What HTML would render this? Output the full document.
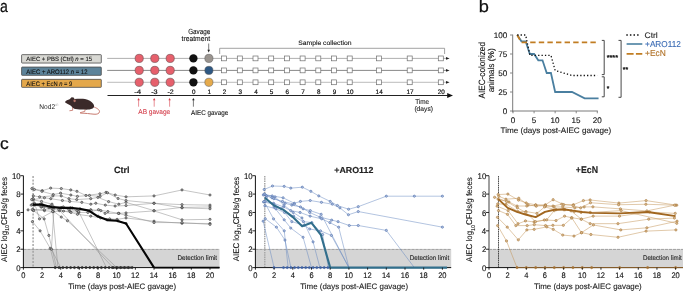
<!DOCTYPE html>
<html><head><meta charset="utf-8"><style>
html,body{margin:0;padding:0;background:#fff;}
svg{display:block;font-family:"Liberation Sans", sans-serif;text-rendering:geometricPrecision;will-change:transform;}
</style></head><body>
<svg width="685" height="291" viewBox="0 0 685 291">
<text x="0.06" y="11.80" font-size="17.037" textLength="7.85" lengthAdjust="spacingAndGlyphs" fill="#111" font-weight="normal" stroke="#111" stroke-width="0.25" >a</text>
<text x="478.82" y="12.00" font-size="16.552" textLength="10.13" lengthAdjust="spacingAndGlyphs" fill="#111" font-weight="normal" stroke="#111" stroke-width="0.25" >b</text>
<text x="-0.08" y="149.20" font-size="16.481" textLength="8.72" lengthAdjust="spacingAndGlyphs" fill="#111" font-weight="normal" stroke="#111" stroke-width="0.25" >c</text>
<rect x="21.6" y="54.65" width="79.7" height="8.40" fill="#d8d8d3" stroke="#4a4a4a" stroke-width="0.8" rx="0.6"/>
<text x="26.37" y="61.20" font-size="6.207" textLength="65.67" lengthAdjust="spacingAndGlyphs" fill="#111" font-weight="normal" stroke="#111" stroke-width="0.1" >AIEC + PBS (Ctrl) <tspan font-style="italic">n</tspan> = 15</text>
<rect x="21.6" y="67.05" width="79.7" height="8.30" fill="#5d8399" stroke="#4a4a4a" stroke-width="0.8" rx="0.6"/>
<text x="26.37" y="73.80" font-size="6.571" textLength="61.13" lengthAdjust="spacingAndGlyphs" fill="#111" font-weight="normal" stroke="#111" stroke-width="0.1" >AIEC + ARO112 <tspan font-style="italic">n</tspan> = 12</text>
<rect x="21.6" y="79.35" width="79.7" height="8.00" fill="#e4a84b" stroke="#4a4a4a" stroke-width="0.8" rx="0.6"/>
<text x="26.37" y="85.80" font-size="6.571" textLength="46.01" lengthAdjust="spacingAndGlyphs" fill="#111" font-weight="normal" stroke="#111" stroke-width="0.1" >AIEC + EcN <tspan font-style="italic">n</tspan> = 9</text>
<line x1="107.2" y1="58.4" x2="447" y2="58.4" stroke="#9a9a9a" stroke-width="0.8"/>
<path d="M446,57.0 L449.6,58.4 L446,59.8 Z" fill="#222"/>
<line x1="107.2" y1="70.4" x2="447" y2="70.4" stroke="#6a6a6a" stroke-width="0.8"/>
<path d="M446,69.0 L449.6,70.4 L446,71.80000000000001 Z" fill="#222"/>
<line x1="107.2" y1="82.3" x2="447" y2="82.3" stroke="#ababab" stroke-width="0.8"/>
<path d="M446,80.89999999999999 L449.6,82.3 L446,83.7 Z" fill="#222"/>
<circle cx="139.2" cy="58.4" r="4.1" fill="#e6606c" stroke="#6a4a4e" stroke-width="0.6"/>
<circle cx="154.8" cy="58.4" r="4.1" fill="#e6606c" stroke="#6a4a4e" stroke-width="0.6"/>
<circle cx="170.2" cy="58.4" r="4.1" fill="#e6606c" stroke="#6a4a4e" stroke-width="0.6"/>
<circle cx="193.4" cy="58.4" r="4.15" fill="#111"/>
<circle cx="139.2" cy="70.4" r="4.1" fill="#e6606c" stroke="#6a4a4e" stroke-width="0.6"/>
<circle cx="154.8" cy="70.4" r="4.1" fill="#e6606c" stroke="#6a4a4e" stroke-width="0.6"/>
<circle cx="170.2" cy="70.4" r="4.1" fill="#e6606c" stroke="#6a4a4e" stroke-width="0.6"/>
<circle cx="193.4" cy="70.4" r="4.15" fill="#111"/>
<circle cx="139.2" cy="82.3" r="4.1" fill="#e6606c" stroke="#6a4a4e" stroke-width="0.6"/>
<circle cx="154.8" cy="82.3" r="4.1" fill="#e6606c" stroke="#6a4a4e" stroke-width="0.6"/>
<circle cx="170.2" cy="82.3" r="4.1" fill="#e6606c" stroke="#6a4a4e" stroke-width="0.6"/>
<circle cx="193.4" cy="82.3" r="4.15" fill="#111"/>
<circle cx="208.9" cy="58.4" r="4.1" fill="#9a948f" stroke="#555" stroke-width="0.5"/>
<rect x="221.60" y="56.00" width="5" height="4.8" fill="#fff" stroke="#6e6e6e" stroke-width="0.7"/>
<rect x="237.30" y="56.00" width="5" height="4.8" fill="#fff" stroke="#6e6e6e" stroke-width="0.7"/>
<rect x="253.00" y="56.00" width="5" height="4.8" fill="#fff" stroke="#6e6e6e" stroke-width="0.7"/>
<rect x="268.70" y="56.00" width="5" height="4.8" fill="#fff" stroke="#6e6e6e" stroke-width="0.7"/>
<rect x="284.40" y="56.00" width="5" height="4.8" fill="#fff" stroke="#6e6e6e" stroke-width="0.7"/>
<rect x="300.10" y="56.00" width="5" height="4.8" fill="#fff" stroke="#6e6e6e" stroke-width="0.7"/>
<rect x="315.80" y="56.00" width="5" height="4.8" fill="#fff" stroke="#6e6e6e" stroke-width="0.7"/>
<rect x="331.50" y="56.00" width="5" height="4.8" fill="#fff" stroke="#6e6e6e" stroke-width="0.7"/>
<rect x="347.20" y="56.00" width="5" height="4.8" fill="#fff" stroke="#6e6e6e" stroke-width="0.7"/>
<rect x="376.40" y="56.00" width="5" height="4.8" fill="#fff" stroke="#6e6e6e" stroke-width="0.7"/>
<rect x="407.20" y="56.00" width="5" height="4.8" fill="#fff" stroke="#6e6e6e" stroke-width="0.7"/>
<rect x="438.30" y="56.00" width="5" height="4.8" fill="#fff" stroke="#6e6e6e" stroke-width="0.7"/>
<circle cx="208.9" cy="70.4" r="4.1" fill="#2e5883" stroke="#555" stroke-width="0.5"/>
<rect x="221.60" y="68.00" width="5" height="4.8" fill="#fff" stroke="#6e6e6e" stroke-width="0.7"/>
<rect x="237.30" y="68.00" width="5" height="4.8" fill="#fff" stroke="#6e6e6e" stroke-width="0.7"/>
<rect x="253.00" y="68.00" width="5" height="4.8" fill="#fff" stroke="#6e6e6e" stroke-width="0.7"/>
<rect x="268.70" y="68.00" width="5" height="4.8" fill="#fff" stroke="#6e6e6e" stroke-width="0.7"/>
<rect x="284.40" y="68.00" width="5" height="4.8" fill="#fff" stroke="#6e6e6e" stroke-width="0.7"/>
<rect x="300.10" y="68.00" width="5" height="4.8" fill="#fff" stroke="#6e6e6e" stroke-width="0.7"/>
<rect x="315.80" y="68.00" width="5" height="4.8" fill="#fff" stroke="#6e6e6e" stroke-width="0.7"/>
<rect x="331.50" y="68.00" width="5" height="4.8" fill="#fff" stroke="#6e6e6e" stroke-width="0.7"/>
<rect x="347.20" y="68.00" width="5" height="4.8" fill="#fff" stroke="#6e6e6e" stroke-width="0.7"/>
<rect x="376.40" y="68.00" width="5" height="4.8" fill="#fff" stroke="#6e6e6e" stroke-width="0.7"/>
<rect x="407.20" y="68.00" width="5" height="4.8" fill="#fff" stroke="#6e6e6e" stroke-width="0.7"/>
<rect x="438.30" y="68.00" width="5" height="4.8" fill="#fff" stroke="#6e6e6e" stroke-width="0.7"/>
<circle cx="208.9" cy="82.3" r="4.1" fill="#e5aa4c" stroke="#555" stroke-width="0.5"/>
<rect x="221.60" y="79.90" width="5" height="4.8" fill="#fff" stroke="#6e6e6e" stroke-width="0.7"/>
<rect x="237.30" y="79.90" width="5" height="4.8" fill="#fff" stroke="#6e6e6e" stroke-width="0.7"/>
<rect x="253.00" y="79.90" width="5" height="4.8" fill="#fff" stroke="#6e6e6e" stroke-width="0.7"/>
<rect x="268.70" y="79.90" width="5" height="4.8" fill="#fff" stroke="#6e6e6e" stroke-width="0.7"/>
<rect x="284.40" y="79.90" width="5" height="4.8" fill="#fff" stroke="#6e6e6e" stroke-width="0.7"/>
<rect x="300.10" y="79.90" width="5" height="4.8" fill="#fff" stroke="#6e6e6e" stroke-width="0.7"/>
<rect x="315.80" y="79.90" width="5" height="4.8" fill="#fff" stroke="#6e6e6e" stroke-width="0.7"/>
<rect x="331.50" y="79.90" width="5" height="4.8" fill="#fff" stroke="#6e6e6e" stroke-width="0.7"/>
<rect x="347.20" y="79.90" width="5" height="4.8" fill="#fff" stroke="#6e6e6e" stroke-width="0.7"/>
<rect x="376.40" y="79.90" width="5" height="4.8" fill="#fff" stroke="#6e6e6e" stroke-width="0.7"/>
<rect x="407.20" y="79.90" width="5" height="4.8" fill="#fff" stroke="#6e6e6e" stroke-width="0.7"/>
<rect x="438.30" y="79.90" width="5" height="4.8" fill="#fff" stroke="#6e6e6e" stroke-width="0.7"/>
<path d="M219.7,54 L219.7,48.3 L444.6,48.3 L444.6,54" fill="none" stroke="#8a8a8a" stroke-width="0.8"/>
<text x="298.19" y="44.60" font-size="6.483" textLength="53.27" lengthAdjust="spacingAndGlyphs" fill="#111" font-weight="normal" stroke="#111" stroke-width="0.1" >Sample collection</text>
<text x="188.18" y="33.80" font-size="7.571" textLength="22.12" lengthAdjust="spacingAndGlyphs" fill="#111" font-weight="normal" stroke="#111" stroke-width="0.1" >Gavage</text>
<text x="181.50" y="40.90" font-size="7.231" textLength="28.56" lengthAdjust="spacingAndGlyphs" fill="#111" font-weight="normal" stroke="#111" stroke-width="0.1" >treatment</text>
<line x1="208.7" y1="43.5" x2="208.7" y2="50.5" stroke="#222" stroke-width="0.6"/>
<path d="M207.4,49.8 L208.7,52.6 L210,49.8 Z" fill="#222"/>
<line x1="107.5" y1="95.5" x2="449" y2="95.5" stroke="#222" stroke-width="1.1"/>
<path d="M447.2,93 L453,95.5 L447.2,98 Z" fill="#111"/>
<text x="134.25" y="93.90" font-size="6.522" textLength="6.98" lengthAdjust="spacingAndGlyphs" fill="#222" font-weight="normal" stroke="#222" stroke-width="0.2" >-4</text>
<text x="151.17" y="93.90" font-size="6.429" textLength="6.45" lengthAdjust="spacingAndGlyphs" fill="#222" font-weight="normal" stroke="#222" stroke-width="0.2" >-3</text>
<text x="167.48" y="93.90" font-size="6.429" textLength="6.26" lengthAdjust="spacingAndGlyphs" fill="#222" font-weight="normal" stroke="#222" stroke-width="0.2" >-2</text>
<text x="192.05" y="93.90" font-size="6.429" textLength="3.50" lengthAdjust="spacingAndGlyphs" fill="#111" font-weight="normal" stroke="#111" stroke-width="0.2" >0</text>
<text x="207.45" y="93.90" font-size="6.522" textLength="3.55" lengthAdjust="spacingAndGlyphs" fill="#111" font-weight="normal" stroke="#111" stroke-width="0.2" >1</text>
<text x="222.75" y="93.90" font-size="6.429" textLength="3.50" lengthAdjust="spacingAndGlyphs" fill="#111" font-weight="normal" stroke="#111" stroke-width="0.2" >2</text>
<text x="238.47" y="93.90" font-size="6.429" textLength="3.50" lengthAdjust="spacingAndGlyphs" fill="#111" font-weight="normal" stroke="#111" stroke-width="0.2" >3</text>
<text x="254.14" y="93.90" font-size="6.522" textLength="3.55" lengthAdjust="spacingAndGlyphs" fill="#111" font-weight="normal" stroke="#111" stroke-width="0.2" >4</text>
<text x="269.83" y="93.90" font-size="6.522" textLength="3.55" lengthAdjust="spacingAndGlyphs" fill="#111" font-weight="normal" stroke="#111" stroke-width="0.2" >5</text>
<text x="285.54" y="93.90" font-size="6.429" textLength="3.50" lengthAdjust="spacingAndGlyphs" fill="#111" font-weight="normal" stroke="#111" stroke-width="0.2" >6</text>
<text x="301.23" y="93.90" font-size="6.522" textLength="3.55" lengthAdjust="spacingAndGlyphs" fill="#111" font-weight="normal" stroke="#111" stroke-width="0.2" >7</text>
<text x="316.94" y="93.90" font-size="6.429" textLength="3.50" lengthAdjust="spacingAndGlyphs" fill="#111" font-weight="normal" stroke="#111" stroke-width="0.2" >8</text>
<text x="332.65" y="93.90" font-size="6.429" textLength="3.50" lengthAdjust="spacingAndGlyphs" fill="#111" font-weight="normal" stroke="#111" stroke-width="0.2" >9</text>
<text x="346.49" y="93.90" font-size="6.429" textLength="7.01" lengthAdjust="spacingAndGlyphs" fill="#111" font-weight="normal" stroke="#111" stroke-width="0.2" >10</text>
<text x="375.61" y="93.90" font-size="6.522" textLength="7.11" lengthAdjust="spacingAndGlyphs" fill="#111" font-weight="normal" stroke="#111" stroke-width="0.2" >14</text>
<text x="406.47" y="93.90" font-size="6.522" textLength="7.11" lengthAdjust="spacingAndGlyphs" fill="#111" font-weight="normal" stroke="#111" stroke-width="0.2" >17</text>
<text x="437.67" y="93.90" font-size="6.429" textLength="7.01" lengthAdjust="spacingAndGlyphs" fill="#111" font-weight="normal" stroke="#111" stroke-width="0.2" >20</text>
<text x="415.17" y="104.30" font-size="7.034" textLength="14.02" lengthAdjust="spacingAndGlyphs" fill="#222" font-weight="normal" stroke="#222" stroke-width="0.1" >Time</text>
<text x="414.40" y="111.40" font-size="6.759" textLength="18.63" lengthAdjust="spacingAndGlyphs" fill="#222" font-weight="normal" stroke="#222" stroke-width="0.1" >(days)</text>
<line x1="138.6" y1="106.7" x2="138.6" y2="99.5" stroke="#d9434f" stroke-width="0.6"/>
<path d="M137.35,100.3 L138.6,97.9 L139.85,100.3 Z" fill="#d9434f"/>
<line x1="154.20000000000002" y1="106.7" x2="154.20000000000002" y2="99.5" stroke="#d9434f" stroke-width="0.6"/>
<path d="M152.95000000000002,100.3 L154.20000000000002,97.9 L155.45000000000002,100.3 Z" fill="#d9434f"/>
<line x1="169.6" y1="106.7" x2="169.6" y2="99.5" stroke="#d9434f" stroke-width="0.6"/>
<path d="M168.35,100.3 L169.6,97.9 L170.85,100.3 Z" fill="#d9434f"/>
<line x1="193.4" y1="106.7" x2="193.4" y2="99.5" stroke="#222" stroke-width="0.6"/>
<path d="M192.15,100.3 L193.4,97.9 L194.65,100.3 Z" fill="#222"/>
<text x="138.37" y="114.40" font-size="6.812" textLength="31.84" lengthAdjust="spacingAndGlyphs" fill="#d4404d" font-weight="normal" stroke="#d4404d" stroke-width="0.1" >AB gavage</text>
<text x="191.07" y="114.60" font-size="6.857" textLength="37.13" lengthAdjust="spacingAndGlyphs" fill="#111" font-weight="normal" stroke="#111" stroke-width="0.1" >AIEC gavage</text>
<text x="39.37" y="108.70" font-size="6.897" textLength="15.76" lengthAdjust="spacingAndGlyphs" fill="#1a1a1a" font-weight="normal" >Nod2</text>
<text x="55.0" y="106.3" font-size="3.9" fill="#888" textLength="3.6" lengthAdjust="spacingAndGlyphs">-/-</text>
<g>
<path d="M93.6,106.8 C96.5,107.9 99.6,109.6 99.5,111.7 C99.4,113.6 97,114.5 94,114.2 C90,113.9 85.5,113.1 80.6,113.1" fill="none" stroke="#c77a6f" stroke-width="1.0" stroke-linecap="round"/>
<path d="M72.6,107.6 L72.7,110.3 L69.8,110.7" fill="none" stroke="#c77a6f" stroke-width="0.9" stroke-linecap="round" stroke-linejoin="round"/>
<path d="M85.2,109 L84.8,111.4 L80.4,112.6" fill="none" stroke="#c77a6f" stroke-width="0.9" stroke-linecap="round" stroke-linejoin="round"/>
<path d="M65,101.9 C65.8,100.6 67.8,99.6 69.6,99.2 L71.6,97.3 L73.6,97.5 L74.5,98.9 C78,98.7 82,98.5 85,98.9 C88.6,99.5 91.6,101.2 93.4,104 C94.7,106.1 94,107.9 92.6,108.5 C90,109.7 87,109.7 84.7,109.6 C81,109.5 78,109.4 75.5,109 C73.6,108.6 72.5,107.6 71.4,106.2 C70,105.1 67.5,104.1 66,103.1 C65.4,102.7 65,102.3 65,101.9 Z" fill="#3b2a2a"/>
<ellipse cx="74.6" cy="100.8" rx="1.2" ry="1.4" fill="#b8766b"/>
</g>
<line x1="512.7" y1="34.60" x2="512.7" y2="112.3" stroke="#7a7a7a" stroke-width="1"/>
<line x1="512.2" y1="111.0" x2="597.80" y2="111.0" stroke="#7a7a7a" stroke-width="1"/>
<line x1="510" y1="111.00" x2="512.7" y2="111.00" stroke="#7a7a7a" stroke-width="0.9"/>
<text x="502.73" y="113.83" font-size="8.100" textLength="4.50" lengthAdjust="spacingAndGlyphs" fill="#111" font-weight="normal" stroke="#111" stroke-width="0.12" >0</text>
<line x1="510" y1="92.00" x2="512.7" y2="92.00" stroke="#7a7a7a" stroke-width="0.9"/>
<text x="498.23" y="94.83" font-size="8.100" textLength="9.01" lengthAdjust="spacingAndGlyphs" fill="#111" font-weight="normal" stroke="#111" stroke-width="0.12" >25</text>
<line x1="510" y1="73.00" x2="512.7" y2="73.00" stroke="#7a7a7a" stroke-width="0.9"/>
<text x="498.23" y="75.83" font-size="8.100" textLength="9.01" lengthAdjust="spacingAndGlyphs" fill="#111" font-weight="normal" stroke="#111" stroke-width="0.12" >50</text>
<line x1="510" y1="54.00" x2="512.7" y2="54.00" stroke="#7a7a7a" stroke-width="0.9"/>
<text x="498.23" y="56.79" font-size="8.100" textLength="9.01" lengthAdjust="spacingAndGlyphs" fill="#111" font-weight="normal" stroke="#111" stroke-width="0.12" >75</text>
<line x1="510" y1="35.00" x2="512.7" y2="35.00" stroke="#7a7a7a" stroke-width="0.9"/>
<text x="493.74" y="37.84" font-size="8.100" textLength="13.51" lengthAdjust="spacingAndGlyphs" fill="#111" font-weight="normal" stroke="#111" stroke-width="0.12" >100</text>
<line x1="513.00" y1="111" x2="513.00" y2="113.3" stroke="#7a7a7a" stroke-width="0.9"/>
<text x="510.75" y="122.97" font-size="8.100" textLength="4.50" lengthAdjust="spacingAndGlyphs" fill="#111" font-weight="normal" stroke="#111" stroke-width="0.12" >0</text>
<line x1="534.08" y1="111" x2="534.08" y2="113.3" stroke="#7a7a7a" stroke-width="0.9"/>
<text x="531.83" y="122.89" font-size="8.100" textLength="4.50" lengthAdjust="spacingAndGlyphs" fill="#111" font-weight="normal" stroke="#111" stroke-width="0.12" >5</text>
<line x1="555.15" y1="111" x2="555.15" y2="113.3" stroke="#7a7a7a" stroke-width="0.9"/>
<text x="550.51" y="122.97" font-size="8.100" textLength="9.01" lengthAdjust="spacingAndGlyphs" fill="#111" font-weight="normal" stroke="#111" stroke-width="0.12" >10</text>
<line x1="576.23" y1="111" x2="576.23" y2="113.3" stroke="#7a7a7a" stroke-width="0.9"/>
<text x="571.59" y="122.89" font-size="8.100" textLength="9.01" lengthAdjust="spacingAndGlyphs" fill="#111" font-weight="normal" stroke="#111" stroke-width="0.12" >15</text>
<line x1="597.30" y1="111" x2="597.30" y2="113.3" stroke="#7a7a7a" stroke-width="0.9"/>
<text x="592.76" y="122.97" font-size="8.100" textLength="9.01" lengthAdjust="spacingAndGlyphs" fill="#111" font-weight="normal" stroke="#111" stroke-width="0.12" >20</text>
<text x="500.54" y="132.60" font-size="7.862" textLength="110.79" lengthAdjust="spacingAndGlyphs" fill="#222" font-weight="normal" stroke="#222" stroke-width="0.12" >Time (days post-AIEC gavage)</text>
<text transform="translate(485.20,98.50) rotate(-90)" x="-0.04" y="0" font-size="9.103" textLength="56.49" lengthAdjust="spacingAndGlyphs" fill="#111" stroke="#111" stroke-width="0.12">AIEC-colonized</text>
<text transform="translate(494.20,91.90) rotate(-90)" x="-0.38" y="0" font-size="8.690" textLength="44.11" lengthAdjust="spacingAndGlyphs" fill="#111" stroke="#111" stroke-width="0.12">animals (%)</text>
<polyline points="517.22,35.00 521.43,41.31 525.64,41.31 529.86,54.00 534.08,54.00 538.29,60.31 542.50,60.31 546.72,73.00 550.93,73.00 555.15,92.00 572.01,92.00 584.65,98.31 598.56,98.31" fill="none" stroke="#4a7fa0" stroke-width="1.8" stroke-linejoin="miter"/>
<polyline points="517.22,35.00 521.43,42.30 597.30,42.30" fill="none" stroke="#c17d22" stroke-width="1.8" stroke-dasharray="5.4 3.2"/>
<polyline points="517.22,35.00 525.64,35.00 529.86,55.29 550.93,55.29 555.15,70.49 572.01,75.51 597.30,75.51" fill="none" stroke="#111" stroke-width="1.3" stroke-dasharray="1.3 2.1"/>
<path d="M601.8,40.4 L604.2,40.4 L604.2,74.6 L601.8,74.6" fill="none" stroke="#333" stroke-width="0.9"/>
<path d="M601.8,76.8 L604.2,76.8 L604.2,96.8 L601.8,96.8" fill="none" stroke="#333" stroke-width="0.9"/>
<path d="M618.5,40.4 L621.1,40.4 L621.1,97.3 L618.5,97.3" fill="none" stroke="#333" stroke-width="0.9"/>
<text x="606.65" y="59.80" font-size="7.174" textLength="11.40" lengthAdjust="spacingAndGlyphs" fill="#222" font-weight="normal" stroke="#222" stroke-width="0.35" >****</text>
<text x="606.77" y="90.50" font-size="7.174" textLength="2.56" lengthAdjust="spacingAndGlyphs" fill="#222" font-weight="normal" stroke="#222" stroke-width="0.35" >*</text>
<text x="622.86" y="71.60" font-size="7.174" textLength="5.36" lengthAdjust="spacingAndGlyphs" fill="#222" font-weight="normal" stroke="#222" stroke-width="0.35" >**</text>
<line x1="626.3" y1="34.9" x2="640" y2="34.9" stroke="#111" stroke-width="1.5" stroke-dasharray="1.5 2.1"/>
<line x1="626.6" y1="44" x2="642.3" y2="44" stroke="#4a7fa0" stroke-width="1.6"/>
<line x1="626.6" y1="53.9" x2="642.3" y2="53.9" stroke="#c17d22" stroke-width="1.6" stroke-dasharray="7 2.3"/>
<text x="644.58" y="37.80" font-size="8.000" textLength="13.18" lengthAdjust="spacingAndGlyphs" fill="#222" font-weight="normal" stroke="#222" stroke-width="0.12" >Ctrl</text>
<text x="645.09" y="47.00" font-size="8.571" textLength="35.72" lengthAdjust="spacingAndGlyphs" fill="#3d6db5" font-weight="normal" stroke="#3d6db5" stroke-width="0.12" >+ARO112</text>
<text x="645.08" y="56.00" font-size="8.696" textLength="20.82" lengthAdjust="spacingAndGlyphs" fill="#b07228" font-weight="normal" stroke="#b07228" stroke-width="0.12" >+EcN</text>
<rect x="23.40" y="249.2" width="196.10" height="18.4" fill="#d5d5d5"/>
<line x1="23.40" y1="249.4" x2="219.50" y2="249.4" stroke="#8a8a8a" stroke-width="0.75" stroke-dasharray="3.2 0.8"/>
<text x="177.50" y="260.40" font-size="6.759" textLength="39.57" lengthAdjust="spacingAndGlyphs" fill="#222" font-weight="normal" stroke="#222" stroke-width="0.1" >Detection limit</text>
<line x1="33.08" y1="176" x2="33.08" y2="267.6" stroke="#9a9a9a" stroke-width="1.3" stroke-dasharray="2 1.4"/>
<polyline points="31.85,188.57 42.31,190.68 50.66,188.11 61.30,188.57 70.75,189.94 76.95,191.32 85.98,195.46 99.93,193.80 106.02,192.33 115.21,195.00 126.03,196.84 154.02,195.92 182.01,189.94 210.00,195.00" fill="none" stroke="#8a8a8a" stroke-width="0.5"/>
<polyline points="34.39,189.49 41.89,191.32 53.27,194.54 60.59,193.16 70.83,195.00 77.42,196.38 89.46,195.46 100.10,196.38 107.50,192.79 118.05,198.49 126.03,200.51 154.02,203.27 182.01,204.65 210.00,205.11" fill="none" stroke="#8a8a8a" stroke-width="0.5"/>
<polyline points="33.31,195.92 39.62,196.84 52.84,195.92 61.23,195.92 68.94,198.68 76.75,199.59 90.76,198.68 97.89,197.39 108.59,201.62 118.82,204.19 126.03,202.35 154.02,210.62 182.01,207.41 210.00,206.95" fill="none" stroke="#8a8a8a" stroke-width="0.5"/>
<polyline points="33.45,199.59 44.42,197.76 50.80,198.68 62.40,200.51 69.74,201.43 81.82,202.35 90.83,204.19 95.79,203.27 105.33,205.11 115.12,206.03 126.03,205.57 154.02,203.27 182.01,207.87 210.00,208.78" fill="none" stroke="#8a8a8a" stroke-width="0.5"/>
<polyline points="34.29,205.11 41.70,206.95 52.10,208.78 59.61,210.62 70.09,211.54 78.74,212.46 87.88,212.46 98.52,209.70 107.84,211.54 118.96,213.38 126.03,212.92 154.02,210.90 182.01,219.81 210.00,219.35" fill="none" stroke="#8a8a8a" stroke-width="0.5"/>
<polyline points="33.34,209.70 44.46,210.62 53.39,211.54 63.47,211.08 71.01,212.46 77.49,214.30 90.73,216.14 100.64,217.97 109.64,218.89 117.09,219.35 126.03,217.97 154.02,221.19 182.01,223.30 210.00,223.49" fill="none" stroke="#8a8a8a" stroke-width="0.5"/>
<polyline points="33.45,204.65 40.44,204.19 53.25,206.95 61.13,207.87 68.85,209.70 76.94,210.62 90.69,209.70 100.78,210.62 105.07,213.38 118.38,213.38 126.03,215.22 154.02,222.57 182.01,222.57 210.00,224.41" fill="none" stroke="#8a8a8a" stroke-width="0.5"/>
<polyline points="32.43,221.65 40.10,230.84 50.24,248.30 55.12,267.60" fill="none" stroke="#8a8a8a" stroke-width="0.5"/>
<polyline points="33.63,210.62 44.15,218.89 48.84,235.44 56.52,267.60" fill="none" stroke="#8a8a8a" stroke-width="0.5"/>
<polyline points="33.11,198.68 39.51,218.89 52.61,211.54 57.92,267.60" fill="none" stroke="#8a8a8a" stroke-width="0.5"/>
<polyline points="32.16,209.70 44.19,209.70 54.08,207.87 51.42,249.22 60.72,267.60" fill="none" stroke="#8a8a8a" stroke-width="0.5"/>
<polyline points="34.40,203.27 40.99,206.95 49.02,207.87 61.28,217.06 67.43,220.73 116.70,267.60" fill="none" stroke="#8a8a8a" stroke-width="0.5"/>
<polyline points="31.71,199.59 41.54,201.43 52.01,204.19 58.80,209.70 112.97,267.60" fill="none" stroke="#8a8a8a" stroke-width="0.5"/>
<polyline points="31.19,205.11 44.12,206.03 50.35,206.03 63.29,206.95 72.27,207.87 78.70,211.54 106.44,267.60" fill="none" stroke="#8a8a8a" stroke-width="0.5"/>
<polyline points="32.60,204.19 42.17,204.19 52.20,206.95 61.26,207.87 70.38,207.87 80.05,208.78 91.18,210.62 98.08,216.14 106.98,219.81 117.93,220.73 126.03,223.49 154.02,267.60" fill="none" stroke="#8a8a8a" stroke-width="0.5"/>
<polyline points="28.06,209.89" fill="none" stroke="#8a8a8a" stroke-width="0.5"/>
<circle cx="31.85" cy="188.57" r="1.1" fill="#b0b0b0" stroke="#2a2a2a" stroke-width="0.6"/>
<circle cx="42.31" cy="190.68" r="1.1" fill="#b0b0b0" stroke="#2a2a2a" stroke-width="0.6"/>
<circle cx="50.66" cy="188.11" r="1.1" fill="#b0b0b0" stroke="#2a2a2a" stroke-width="0.6"/>
<circle cx="61.30" cy="188.57" r="1.1" fill="#b0b0b0" stroke="#2a2a2a" stroke-width="0.6"/>
<circle cx="70.75" cy="189.94" r="1.1" fill="#b0b0b0" stroke="#2a2a2a" stroke-width="0.6"/>
<circle cx="76.95" cy="191.32" r="1.1" fill="#b0b0b0" stroke="#2a2a2a" stroke-width="0.6"/>
<circle cx="85.98" cy="195.46" r="1.1" fill="#b0b0b0" stroke="#2a2a2a" stroke-width="0.6"/>
<circle cx="99.93" cy="193.80" r="1.1" fill="#b0b0b0" stroke="#2a2a2a" stroke-width="0.6"/>
<circle cx="106.02" cy="192.33" r="1.1" fill="#b0b0b0" stroke="#2a2a2a" stroke-width="0.6"/>
<circle cx="115.21" cy="195.00" r="1.1" fill="#b0b0b0" stroke="#2a2a2a" stroke-width="0.6"/>
<circle cx="126.03" cy="196.84" r="1.1" fill="#b0b0b0" stroke="#2a2a2a" stroke-width="0.6"/>
<circle cx="154.02" cy="195.92" r="1.1" fill="#b0b0b0" stroke="#2a2a2a" stroke-width="0.6"/>
<circle cx="182.01" cy="189.94" r="1.1" fill="#b0b0b0" stroke="#2a2a2a" stroke-width="0.6"/>
<circle cx="210.00" cy="195.00" r="1.1" fill="#b0b0b0" stroke="#2a2a2a" stroke-width="0.6"/>
<circle cx="34.39" cy="189.49" r="1.1" fill="#b0b0b0" stroke="#2a2a2a" stroke-width="0.6"/>
<circle cx="41.89" cy="191.32" r="1.1" fill="#b0b0b0" stroke="#2a2a2a" stroke-width="0.6"/>
<circle cx="53.27" cy="194.54" r="1.1" fill="#b0b0b0" stroke="#2a2a2a" stroke-width="0.6"/>
<circle cx="60.59" cy="193.16" r="1.1" fill="#b0b0b0" stroke="#2a2a2a" stroke-width="0.6"/>
<circle cx="70.83" cy="195.00" r="1.1" fill="#b0b0b0" stroke="#2a2a2a" stroke-width="0.6"/>
<circle cx="77.42" cy="196.38" r="1.1" fill="#b0b0b0" stroke="#2a2a2a" stroke-width="0.6"/>
<circle cx="89.46" cy="195.46" r="1.1" fill="#b0b0b0" stroke="#2a2a2a" stroke-width="0.6"/>
<circle cx="100.10" cy="196.38" r="1.1" fill="#b0b0b0" stroke="#2a2a2a" stroke-width="0.6"/>
<circle cx="107.50" cy="192.79" r="1.1" fill="#b0b0b0" stroke="#2a2a2a" stroke-width="0.6"/>
<circle cx="118.05" cy="198.49" r="1.1" fill="#b0b0b0" stroke="#2a2a2a" stroke-width="0.6"/>
<circle cx="126.03" cy="200.51" r="1.1" fill="#b0b0b0" stroke="#2a2a2a" stroke-width="0.6"/>
<circle cx="154.02" cy="203.27" r="1.1" fill="#b0b0b0" stroke="#2a2a2a" stroke-width="0.6"/>
<circle cx="182.01" cy="204.65" r="1.1" fill="#b0b0b0" stroke="#2a2a2a" stroke-width="0.6"/>
<circle cx="210.00" cy="205.11" r="1.1" fill="#b0b0b0" stroke="#2a2a2a" stroke-width="0.6"/>
<circle cx="33.31" cy="195.92" r="1.1" fill="#b0b0b0" stroke="#2a2a2a" stroke-width="0.6"/>
<circle cx="39.62" cy="196.84" r="1.1" fill="#b0b0b0" stroke="#2a2a2a" stroke-width="0.6"/>
<circle cx="52.84" cy="195.92" r="1.1" fill="#b0b0b0" stroke="#2a2a2a" stroke-width="0.6"/>
<circle cx="61.23" cy="195.92" r="1.1" fill="#b0b0b0" stroke="#2a2a2a" stroke-width="0.6"/>
<circle cx="68.94" cy="198.68" r="1.1" fill="#b0b0b0" stroke="#2a2a2a" stroke-width="0.6"/>
<circle cx="76.75" cy="199.59" r="1.1" fill="#b0b0b0" stroke="#2a2a2a" stroke-width="0.6"/>
<circle cx="90.76" cy="198.68" r="1.1" fill="#b0b0b0" stroke="#2a2a2a" stroke-width="0.6"/>
<circle cx="97.89" cy="197.39" r="1.1" fill="#b0b0b0" stroke="#2a2a2a" stroke-width="0.6"/>
<circle cx="108.59" cy="201.62" r="1.1" fill="#b0b0b0" stroke="#2a2a2a" stroke-width="0.6"/>
<circle cx="118.82" cy="204.19" r="1.1" fill="#b0b0b0" stroke="#2a2a2a" stroke-width="0.6"/>
<circle cx="126.03" cy="202.35" r="1.1" fill="#b0b0b0" stroke="#2a2a2a" stroke-width="0.6"/>
<circle cx="154.02" cy="210.62" r="1.1" fill="#b0b0b0" stroke="#2a2a2a" stroke-width="0.6"/>
<circle cx="182.01" cy="207.41" r="1.1" fill="#b0b0b0" stroke="#2a2a2a" stroke-width="0.6"/>
<circle cx="210.00" cy="206.95" r="1.1" fill="#b0b0b0" stroke="#2a2a2a" stroke-width="0.6"/>
<circle cx="33.45" cy="199.59" r="1.1" fill="#b0b0b0" stroke="#2a2a2a" stroke-width="0.6"/>
<circle cx="44.42" cy="197.76" r="1.1" fill="#b0b0b0" stroke="#2a2a2a" stroke-width="0.6"/>
<circle cx="50.80" cy="198.68" r="1.1" fill="#b0b0b0" stroke="#2a2a2a" stroke-width="0.6"/>
<circle cx="62.40" cy="200.51" r="1.1" fill="#b0b0b0" stroke="#2a2a2a" stroke-width="0.6"/>
<circle cx="69.74" cy="201.43" r="1.1" fill="#b0b0b0" stroke="#2a2a2a" stroke-width="0.6"/>
<circle cx="81.82" cy="202.35" r="1.1" fill="#b0b0b0" stroke="#2a2a2a" stroke-width="0.6"/>
<circle cx="90.83" cy="204.19" r="1.1" fill="#b0b0b0" stroke="#2a2a2a" stroke-width="0.6"/>
<circle cx="95.79" cy="203.27" r="1.1" fill="#b0b0b0" stroke="#2a2a2a" stroke-width="0.6"/>
<circle cx="105.33" cy="205.11" r="1.1" fill="#b0b0b0" stroke="#2a2a2a" stroke-width="0.6"/>
<circle cx="115.12" cy="206.03" r="1.1" fill="#b0b0b0" stroke="#2a2a2a" stroke-width="0.6"/>
<circle cx="126.03" cy="205.57" r="1.1" fill="#b0b0b0" stroke="#2a2a2a" stroke-width="0.6"/>
<circle cx="154.02" cy="203.27" r="1.1" fill="#b0b0b0" stroke="#2a2a2a" stroke-width="0.6"/>
<circle cx="182.01" cy="207.87" r="1.1" fill="#b0b0b0" stroke="#2a2a2a" stroke-width="0.6"/>
<circle cx="210.00" cy="208.78" r="1.1" fill="#b0b0b0" stroke="#2a2a2a" stroke-width="0.6"/>
<circle cx="34.29" cy="205.11" r="1.1" fill="#b0b0b0" stroke="#2a2a2a" stroke-width="0.6"/>
<circle cx="41.70" cy="206.95" r="1.1" fill="#b0b0b0" stroke="#2a2a2a" stroke-width="0.6"/>
<circle cx="52.10" cy="208.78" r="1.1" fill="#b0b0b0" stroke="#2a2a2a" stroke-width="0.6"/>
<circle cx="59.61" cy="210.62" r="1.1" fill="#b0b0b0" stroke="#2a2a2a" stroke-width="0.6"/>
<circle cx="70.09" cy="211.54" r="1.1" fill="#b0b0b0" stroke="#2a2a2a" stroke-width="0.6"/>
<circle cx="78.74" cy="212.46" r="1.1" fill="#b0b0b0" stroke="#2a2a2a" stroke-width="0.6"/>
<circle cx="87.88" cy="212.46" r="1.1" fill="#b0b0b0" stroke="#2a2a2a" stroke-width="0.6"/>
<circle cx="98.52" cy="209.70" r="1.1" fill="#b0b0b0" stroke="#2a2a2a" stroke-width="0.6"/>
<circle cx="107.84" cy="211.54" r="1.1" fill="#b0b0b0" stroke="#2a2a2a" stroke-width="0.6"/>
<circle cx="118.96" cy="213.38" r="1.1" fill="#b0b0b0" stroke="#2a2a2a" stroke-width="0.6"/>
<circle cx="126.03" cy="212.92" r="1.1" fill="#b0b0b0" stroke="#2a2a2a" stroke-width="0.6"/>
<circle cx="154.02" cy="210.90" r="1.1" fill="#b0b0b0" stroke="#2a2a2a" stroke-width="0.6"/>
<circle cx="182.01" cy="219.81" r="1.1" fill="#b0b0b0" stroke="#2a2a2a" stroke-width="0.6"/>
<circle cx="210.00" cy="219.35" r="1.1" fill="#b0b0b0" stroke="#2a2a2a" stroke-width="0.6"/>
<circle cx="33.34" cy="209.70" r="1.1" fill="#b0b0b0" stroke="#2a2a2a" stroke-width="0.6"/>
<circle cx="44.46" cy="210.62" r="1.1" fill="#b0b0b0" stroke="#2a2a2a" stroke-width="0.6"/>
<circle cx="53.39" cy="211.54" r="1.1" fill="#b0b0b0" stroke="#2a2a2a" stroke-width="0.6"/>
<circle cx="63.47" cy="211.08" r="1.1" fill="#b0b0b0" stroke="#2a2a2a" stroke-width="0.6"/>
<circle cx="71.01" cy="212.46" r="1.1" fill="#b0b0b0" stroke="#2a2a2a" stroke-width="0.6"/>
<circle cx="77.49" cy="214.30" r="1.1" fill="#b0b0b0" stroke="#2a2a2a" stroke-width="0.6"/>
<circle cx="90.73" cy="216.14" r="1.1" fill="#b0b0b0" stroke="#2a2a2a" stroke-width="0.6"/>
<circle cx="100.64" cy="217.97" r="1.1" fill="#b0b0b0" stroke="#2a2a2a" stroke-width="0.6"/>
<circle cx="109.64" cy="218.89" r="1.1" fill="#b0b0b0" stroke="#2a2a2a" stroke-width="0.6"/>
<circle cx="117.09" cy="219.35" r="1.1" fill="#b0b0b0" stroke="#2a2a2a" stroke-width="0.6"/>
<circle cx="126.03" cy="217.97" r="1.1" fill="#b0b0b0" stroke="#2a2a2a" stroke-width="0.6"/>
<circle cx="154.02" cy="221.19" r="1.1" fill="#b0b0b0" stroke="#2a2a2a" stroke-width="0.6"/>
<circle cx="182.01" cy="223.30" r="1.1" fill="#b0b0b0" stroke="#2a2a2a" stroke-width="0.6"/>
<circle cx="210.00" cy="223.49" r="1.1" fill="#b0b0b0" stroke="#2a2a2a" stroke-width="0.6"/>
<circle cx="33.45" cy="204.65" r="1.1" fill="#b0b0b0" stroke="#2a2a2a" stroke-width="0.6"/>
<circle cx="40.44" cy="204.19" r="1.1" fill="#b0b0b0" stroke="#2a2a2a" stroke-width="0.6"/>
<circle cx="53.25" cy="206.95" r="1.1" fill="#b0b0b0" stroke="#2a2a2a" stroke-width="0.6"/>
<circle cx="61.13" cy="207.87" r="1.1" fill="#b0b0b0" stroke="#2a2a2a" stroke-width="0.6"/>
<circle cx="68.85" cy="209.70" r="1.1" fill="#b0b0b0" stroke="#2a2a2a" stroke-width="0.6"/>
<circle cx="76.94" cy="210.62" r="1.1" fill="#b0b0b0" stroke="#2a2a2a" stroke-width="0.6"/>
<circle cx="90.69" cy="209.70" r="1.1" fill="#b0b0b0" stroke="#2a2a2a" stroke-width="0.6"/>
<circle cx="100.78" cy="210.62" r="1.1" fill="#b0b0b0" stroke="#2a2a2a" stroke-width="0.6"/>
<circle cx="105.07" cy="213.38" r="1.1" fill="#b0b0b0" stroke="#2a2a2a" stroke-width="0.6"/>
<circle cx="118.38" cy="213.38" r="1.1" fill="#b0b0b0" stroke="#2a2a2a" stroke-width="0.6"/>
<circle cx="126.03" cy="215.22" r="1.1" fill="#b0b0b0" stroke="#2a2a2a" stroke-width="0.6"/>
<circle cx="154.02" cy="222.57" r="1.1" fill="#b0b0b0" stroke="#2a2a2a" stroke-width="0.6"/>
<circle cx="182.01" cy="222.57" r="1.1" fill="#b0b0b0" stroke="#2a2a2a" stroke-width="0.6"/>
<circle cx="210.00" cy="224.41" r="1.1" fill="#b0b0b0" stroke="#2a2a2a" stroke-width="0.6"/>
<circle cx="32.43" cy="221.65" r="1.1" fill="#b0b0b0" stroke="#2a2a2a" stroke-width="0.6"/>
<circle cx="40.10" cy="230.84" r="1.1" fill="#b0b0b0" stroke="#2a2a2a" stroke-width="0.6"/>
<circle cx="50.24" cy="248.30" r="1.1" fill="#b0b0b0" stroke="#2a2a2a" stroke-width="0.6"/>
<circle cx="33.63" cy="210.62" r="1.1" fill="#b0b0b0" stroke="#2a2a2a" stroke-width="0.6"/>
<circle cx="44.15" cy="218.89" r="1.1" fill="#b0b0b0" stroke="#2a2a2a" stroke-width="0.6"/>
<circle cx="48.84" cy="235.44" r="1.1" fill="#b0b0b0" stroke="#2a2a2a" stroke-width="0.6"/>
<circle cx="33.11" cy="198.68" r="1.1" fill="#b0b0b0" stroke="#2a2a2a" stroke-width="0.6"/>
<circle cx="39.51" cy="218.89" r="1.1" fill="#b0b0b0" stroke="#2a2a2a" stroke-width="0.6"/>
<circle cx="52.61" cy="211.54" r="1.1" fill="#b0b0b0" stroke="#2a2a2a" stroke-width="0.6"/>
<circle cx="32.16" cy="209.70" r="1.1" fill="#b0b0b0" stroke="#2a2a2a" stroke-width="0.6"/>
<circle cx="44.19" cy="209.70" r="1.1" fill="#b0b0b0" stroke="#2a2a2a" stroke-width="0.6"/>
<circle cx="54.08" cy="207.87" r="1.1" fill="#b0b0b0" stroke="#2a2a2a" stroke-width="0.6"/>
<circle cx="51.42" cy="249.22" r="1.1" fill="#b0b0b0" stroke="#2a2a2a" stroke-width="0.6"/>
<circle cx="34.40" cy="203.27" r="1.1" fill="#b0b0b0" stroke="#2a2a2a" stroke-width="0.6"/>
<circle cx="40.99" cy="206.95" r="1.1" fill="#b0b0b0" stroke="#2a2a2a" stroke-width="0.6"/>
<circle cx="49.02" cy="207.87" r="1.1" fill="#b0b0b0" stroke="#2a2a2a" stroke-width="0.6"/>
<circle cx="61.28" cy="217.06" r="1.1" fill="#b0b0b0" stroke="#2a2a2a" stroke-width="0.6"/>
<circle cx="67.43" cy="220.73" r="1.1" fill="#b0b0b0" stroke="#2a2a2a" stroke-width="0.6"/>
<circle cx="31.71" cy="199.59" r="1.1" fill="#b0b0b0" stroke="#2a2a2a" stroke-width="0.6"/>
<circle cx="41.54" cy="201.43" r="1.1" fill="#b0b0b0" stroke="#2a2a2a" stroke-width="0.6"/>
<circle cx="52.01" cy="204.19" r="1.1" fill="#b0b0b0" stroke="#2a2a2a" stroke-width="0.6"/>
<circle cx="58.80" cy="209.70" r="1.1" fill="#b0b0b0" stroke="#2a2a2a" stroke-width="0.6"/>
<circle cx="31.19" cy="205.11" r="1.1" fill="#b0b0b0" stroke="#2a2a2a" stroke-width="0.6"/>
<circle cx="44.12" cy="206.03" r="1.1" fill="#b0b0b0" stroke="#2a2a2a" stroke-width="0.6"/>
<circle cx="50.35" cy="206.03" r="1.1" fill="#b0b0b0" stroke="#2a2a2a" stroke-width="0.6"/>
<circle cx="63.29" cy="206.95" r="1.1" fill="#b0b0b0" stroke="#2a2a2a" stroke-width="0.6"/>
<circle cx="72.27" cy="207.87" r="1.1" fill="#b0b0b0" stroke="#2a2a2a" stroke-width="0.6"/>
<circle cx="78.70" cy="211.54" r="1.1" fill="#b0b0b0" stroke="#2a2a2a" stroke-width="0.6"/>
<circle cx="32.60" cy="204.19" r="1.1" fill="#b0b0b0" stroke="#2a2a2a" stroke-width="0.6"/>
<circle cx="42.17" cy="204.19" r="1.1" fill="#b0b0b0" stroke="#2a2a2a" stroke-width="0.6"/>
<circle cx="52.20" cy="206.95" r="1.1" fill="#b0b0b0" stroke="#2a2a2a" stroke-width="0.6"/>
<circle cx="61.26" cy="207.87" r="1.1" fill="#b0b0b0" stroke="#2a2a2a" stroke-width="0.6"/>
<circle cx="70.38" cy="207.87" r="1.1" fill="#b0b0b0" stroke="#2a2a2a" stroke-width="0.6"/>
<circle cx="80.05" cy="208.78" r="1.1" fill="#b0b0b0" stroke="#2a2a2a" stroke-width="0.6"/>
<circle cx="91.18" cy="210.62" r="1.1" fill="#b0b0b0" stroke="#2a2a2a" stroke-width="0.6"/>
<circle cx="98.08" cy="216.14" r="1.1" fill="#b0b0b0" stroke="#2a2a2a" stroke-width="0.6"/>
<circle cx="106.98" cy="219.81" r="1.1" fill="#b0b0b0" stroke="#2a2a2a" stroke-width="0.6"/>
<circle cx="117.93" cy="220.73" r="1.1" fill="#b0b0b0" stroke="#2a2a2a" stroke-width="0.6"/>
<circle cx="126.03" cy="223.49" r="1.1" fill="#b0b0b0" stroke="#2a2a2a" stroke-width="0.6"/>
<circle cx="28.06" cy="209.89" r="1.1" fill="#b0b0b0" stroke="#2a2a2a" stroke-width="0.6"/>
<line x1="23.40" y1="175.7" x2="23.40" y2="268.1" stroke="#111" stroke-width="1.0"/>
<line x1="22.90" y1="267.6" x2="219.50" y2="267.6" stroke="#111" stroke-width="1"/>
<circle cx="55.20" cy="267.6" r="1.1" fill="#2a2a2a" stroke="#2a2a2a" stroke-width="0.6"/>
<circle cx="59.05" cy="267.6" r="1.1" fill="#2a2a2a" stroke="#2a2a2a" stroke-width="0.6"/>
<circle cx="62.90" cy="267.6" r="1.1" fill="#2a2a2a" stroke="#2a2a2a" stroke-width="0.6"/>
<circle cx="66.75" cy="267.6" r="1.1" fill="#2a2a2a" stroke="#2a2a2a" stroke-width="0.6"/>
<circle cx="70.60" cy="267.6" r="1.1" fill="#2a2a2a" stroke="#2a2a2a" stroke-width="0.6"/>
<circle cx="74.45" cy="267.6" r="1.1" fill="#2a2a2a" stroke="#2a2a2a" stroke-width="0.6"/>
<circle cx="78.30" cy="267.6" r="1.1" fill="#2a2a2a" stroke="#2a2a2a" stroke-width="0.6"/>
<circle cx="82.15" cy="267.6" r="1.1" fill="#2a2a2a" stroke="#2a2a2a" stroke-width="0.6"/>
<circle cx="86.00" cy="267.6" r="1.1" fill="#2a2a2a" stroke="#2a2a2a" stroke-width="0.6"/>
<circle cx="89.85" cy="267.6" r="1.1" fill="#2a2a2a" stroke="#2a2a2a" stroke-width="0.6"/>
<circle cx="93.70" cy="267.6" r="1.1" fill="#2a2a2a" stroke="#2a2a2a" stroke-width="0.6"/>
<circle cx="97.55" cy="267.6" r="1.1" fill="#2a2a2a" stroke="#2a2a2a" stroke-width="0.6"/>
<circle cx="101.40" cy="267.6" r="1.1" fill="#2a2a2a" stroke="#2a2a2a" stroke-width="0.6"/>
<circle cx="105.25" cy="267.6" r="1.1" fill="#2a2a2a" stroke="#2a2a2a" stroke-width="0.6"/>
<circle cx="109.10" cy="267.6" r="1.1" fill="#2a2a2a" stroke="#2a2a2a" stroke-width="0.6"/>
<circle cx="112.95" cy="267.6" r="1.1" fill="#2a2a2a" stroke="#2a2a2a" stroke-width="0.6"/>
<circle cx="116.80" cy="267.6" r="1.1" fill="#2a2a2a" stroke="#2a2a2a" stroke-width="0.6"/>
<circle cx="120.65" cy="267.6" r="1.1" fill="#2a2a2a" stroke="#2a2a2a" stroke-width="0.6"/>
<circle cx="124.50" cy="267.6" r="1.1" fill="#2a2a2a" stroke="#2a2a2a" stroke-width="0.6"/>
<circle cx="128.35" cy="267.6" r="1.1" fill="#2a2a2a" stroke="#2a2a2a" stroke-width="0.6"/>
<circle cx="132.20" cy="267.6" r="1.1" fill="#2a2a2a" stroke="#2a2a2a" stroke-width="0.6"/>
<line x1="111" y1="267.6" x2="131.5" y2="267.6" stroke="#2a2a2a" stroke-width="1.9"/>
<line x1="153.9" y1="267.6" x2="219.5" y2="267.6" stroke="#050505" stroke-width="1.7"/>
<polyline points="32.73,204.65 42.06,204.65 51.39,206.95 60.72,207.87 70.05,207.87 79.38,208.78 88.71,210.62 98.04,216.60 107.37,220.09 116.70,220.73 126.03,223.49 154.02,267.60" fill="none" stroke="#050505" stroke-width="2.1" stroke-linejoin="round"/>
<line x1="20.40" y1="267.60" x2="23.40" y2="267.60" stroke="#111" stroke-width="0.9"/>
<text x="16.29" y="270.77" font-size="8.200" textLength="4.33" lengthAdjust="spacingAndGlyphs" fill="#111" font-weight="normal" stroke="#111" stroke-width="0.12" >0</text>
<line x1="20.40" y1="249.22" x2="23.40" y2="249.22" stroke="#111" stroke-width="0.9"/>
<text x="16.37" y="252.39" font-size="8.200" textLength="4.33" lengthAdjust="spacingAndGlyphs" fill="#111" font-weight="normal" stroke="#111" stroke-width="0.12" >2</text>
<line x1="20.40" y1="230.84" x2="23.40" y2="230.84" stroke="#111" stroke-width="0.9"/>
<text x="16.21" y="233.97" font-size="8.200" textLength="4.33" lengthAdjust="spacingAndGlyphs" fill="#111" font-weight="normal" stroke="#111" stroke-width="0.12" >4</text>
<line x1="20.40" y1="212.46" x2="23.40" y2="212.46" stroke="#111" stroke-width="0.9"/>
<text x="16.33" y="215.63" font-size="8.200" textLength="4.33" lengthAdjust="spacingAndGlyphs" fill="#111" font-weight="normal" stroke="#111" stroke-width="0.12" >6</text>
<line x1="20.40" y1="194.08" x2="23.40" y2="194.08" stroke="#111" stroke-width="0.9"/>
<text x="16.29" y="197.25" font-size="8.200" textLength="4.33" lengthAdjust="spacingAndGlyphs" fill="#111" font-weight="normal" stroke="#111" stroke-width="0.12" >8</text>
<line x1="20.40" y1="175.70" x2="23.40" y2="175.70" stroke="#111" stroke-width="0.9"/>
<text x="11.96" y="178.87" font-size="8.200" textLength="8.67" lengthAdjust="spacingAndGlyphs" fill="#111" font-weight="normal" stroke="#111" stroke-width="0.12" >10</text>
<line x1="23.40" y1="267.6" x2="23.40" y2="269.7" stroke="#111" stroke-width="0.9"/>
<text x="21.31" y="278.07" font-size="8.100" textLength="4.19" lengthAdjust="spacingAndGlyphs" fill="#111" font-weight="normal" stroke="#111" stroke-width="0.12" >0</text>
<line x1="42.06" y1="267.6" x2="42.06" y2="269.7" stroke="#111" stroke-width="0.9"/>
<text x="39.97" y="278.07" font-size="8.100" textLength="4.19" lengthAdjust="spacingAndGlyphs" fill="#111" font-weight="normal" stroke="#111" stroke-width="0.12" >2</text>
<line x1="60.72" y1="267.6" x2="60.72" y2="269.7" stroke="#111" stroke-width="0.9"/>
<text x="58.65" y="277.99" font-size="8.100" textLength="4.19" lengthAdjust="spacingAndGlyphs" fill="#111" font-weight="normal" stroke="#111" stroke-width="0.12" >4</text>
<line x1="79.38" y1="267.6" x2="79.38" y2="269.7" stroke="#111" stroke-width="0.9"/>
<text x="77.27" y="278.07" font-size="8.100" textLength="4.19" lengthAdjust="spacingAndGlyphs" fill="#111" font-weight="normal" stroke="#111" stroke-width="0.12" >6</text>
<line x1="98.04" y1="267.6" x2="98.04" y2="269.7" stroke="#111" stroke-width="0.9"/>
<text x="95.93" y="278.07" font-size="8.100" textLength="4.19" lengthAdjust="spacingAndGlyphs" fill="#111" font-weight="normal" stroke="#111" stroke-width="0.12" >8</text>
<line x1="116.70" y1="267.6" x2="116.70" y2="269.7" stroke="#111" stroke-width="0.9"/>
<text x="112.39" y="278.07" font-size="8.100" textLength="8.38" lengthAdjust="spacingAndGlyphs" fill="#111" font-weight="normal" stroke="#111" stroke-width="0.12" >10</text>
<line x1="135.36" y1="267.6" x2="135.36" y2="269.7" stroke="#111" stroke-width="0.9"/>
<text x="131.09" y="278.07" font-size="8.100" textLength="8.38" lengthAdjust="spacingAndGlyphs" fill="#111" font-weight="normal" stroke="#111" stroke-width="0.12" >12</text>
<line x1="154.02" y1="267.6" x2="154.02" y2="269.7" stroke="#111" stroke-width="0.9"/>
<text x="149.67" y="277.99" font-size="8.100" textLength="8.38" lengthAdjust="spacingAndGlyphs" fill="#111" font-weight="normal" stroke="#111" stroke-width="0.12" >14</text>
<line x1="172.68" y1="267.6" x2="172.68" y2="269.7" stroke="#111" stroke-width="0.9"/>
<text x="168.39" y="278.07" font-size="8.100" textLength="8.38" lengthAdjust="spacingAndGlyphs" fill="#111" font-weight="normal" stroke="#111" stroke-width="0.12" >16</text>
<line x1="191.34" y1="267.6" x2="191.34" y2="269.7" stroke="#111" stroke-width="0.9"/>
<text x="187.03" y="278.07" font-size="8.100" textLength="8.38" lengthAdjust="spacingAndGlyphs" fill="#111" font-weight="normal" stroke="#111" stroke-width="0.12" >18</text>
<line x1="210.00" y1="267.6" x2="210.00" y2="269.7" stroke="#111" stroke-width="0.9"/>
<text x="205.78" y="278.07" font-size="8.100" textLength="8.38" lengthAdjust="spacingAndGlyphs" fill="#111" font-weight="normal" stroke="#111" stroke-width="0.12" >20</text>
<text x="68.34" y="289.10" font-size="7.862" textLength="107.77" lengthAdjust="spacingAndGlyphs" fill="#222" font-weight="normal" stroke="#222" stroke-width="0.12" >Time (days post-AIEC gavage)</text>
<text x="113.94" y="172.60" font-size="9.103" textLength="15.62" lengthAdjust="spacingAndGlyphs" fill="#222" font-weight="bold" stroke="#222" stroke-width="0.15" >Ctrl</text>
<text transform="translate(6.70,262.00) rotate(-90)" x="0" y="0" font-size="8.3" textLength="84.90" lengthAdjust="spacingAndGlyphs" fill="#111" stroke="#111" stroke-width="0.1">AIEC log<tspan font-size="5.6" dy="2.1">10</tspan><tspan dy="-2.1">CFUs/g feces</tspan></text>
<rect x="255.40" y="249.2" width="195.80" height="18.4" fill="#d5d5d5"/>
<line x1="255.40" y1="249.4" x2="451.20" y2="249.4" stroke="#8a8a8a" stroke-width="0.75" stroke-dasharray="3.2 0.8"/>
<text x="409.70" y="260.40" font-size="6.759" textLength="39.47" lengthAdjust="spacingAndGlyphs" fill="#222" font-weight="normal" stroke="#222" stroke-width="0.1" >Detection limit</text>
<line x1="264.75" y1="176" x2="264.75" y2="267.6" stroke="#a8a8a8" stroke-width="1.5" stroke-dasharray="1.5 0.8"/>
<polyline points="264.16,189.49 272.47,185.99 284.16,186.36 290.80,188.11 302.32,187.19 310.87,191.32 318.78,195.92 330.23,201.43 337.39,205.48 348.59,209.24 358.25,206.67 386.30,196.19 414.35,196.19 442.40,196.19" fill="none" stroke="#6688c0" stroke-width="0.5"/>
<polyline points="263.30,195.00 272.19,195.92 283.10,197.76 294.33,203.27 300.39,201.43 310.21,200.51 321.45,202.35 332.29,204.19 339.91,207.87 348.42,214.76 358.25,211.54 442.40,227.16" fill="none" stroke="#6688c0" stroke-width="0.5"/>
<polyline points="266.35,195.92 271.98,197.76 285.13,203.27 291.82,205.11 300.49,206.95 309.71,212.46 319.95,217.06 331.68,220.09 338.06,221.65 349.28,225.51 358.25,225.51 386.30,230.38 414.35,267.60" fill="none" stroke="#6688c0" stroke-width="0.5"/>
<polyline points="265.22,201.43 273.50,203.27 283.67,206.95 290.76,210.62 300.09,212.46 310.13,216.14 321.69,218.89 329.86,222.57 338.68,227.16 348.90,267.60" fill="none" stroke="#6688c0" stroke-width="0.5"/>
<polyline points="265.04,194.63 273.88,198.68 282.51,201.43 294.18,204.19 303.08,208.78 310.30,210.62 321.20,214.30 348.90,267.60" fill="none" stroke="#6688c0" stroke-width="0.5"/>
<polyline points="264.83,205.84 275.85,208.78 284.52,212.46 291.81,221.65 304.39,225.33 309.71,229.00 320.47,230.84 331.40,235.44 348.90,267.60" fill="none" stroke="#6688c0" stroke-width="0.5"/>
<polyline points="263.58,201.98 274.05,204.19 281.30,208.78 293.59,216.14 303.39,221.65 311.84,222.57 322.61,234.52 328.33,267.60" fill="none" stroke="#6688c0" stroke-width="0.5"/>
<polyline points="264.12,194.08 275.01,196.84 283.89,205.11 293.17,212.46 301.95,217.97 313.09,241.87 319.92,267.60" fill="none" stroke="#6688c0" stroke-width="0.5"/>
<polyline points="266.25,197.76 273.98,206.95 284.22,219.81 290.75,228.08 303.09,237.27 311.50,267.60" fill="none" stroke="#6688c0" stroke-width="0.5"/>
<polyline points="265.25,218.71 276.41,227.16 284.95,240.03 290.93,267.60" fill="none" stroke="#6688c0" stroke-width="0.5"/>
<polyline points="264.02,201.52 273.57,218.89 284.24,230.84 288.12,267.60" fill="none" stroke="#6688c0" stroke-width="0.5"/>
<polyline points="263.14,221.19 274.10,267.60" fill="none" stroke="#6688c0" stroke-width="0.5"/>
<circle cx="264.16" cy="189.49" r="1.1" fill="#b4c4e2" stroke="#3f62a4" stroke-width="0.55"/>
<circle cx="272.47" cy="185.99" r="1.1" fill="#b4c4e2" stroke="#3f62a4" stroke-width="0.55"/>
<circle cx="284.16" cy="186.36" r="1.1" fill="#b4c4e2" stroke="#3f62a4" stroke-width="0.55"/>
<circle cx="290.80" cy="188.11" r="1.1" fill="#b4c4e2" stroke="#3f62a4" stroke-width="0.55"/>
<circle cx="302.32" cy="187.19" r="1.1" fill="#b4c4e2" stroke="#3f62a4" stroke-width="0.55"/>
<circle cx="310.87" cy="191.32" r="1.1" fill="#b4c4e2" stroke="#3f62a4" stroke-width="0.55"/>
<circle cx="318.78" cy="195.92" r="1.1" fill="#b4c4e2" stroke="#3f62a4" stroke-width="0.55"/>
<circle cx="330.23" cy="201.43" r="1.1" fill="#b4c4e2" stroke="#3f62a4" stroke-width="0.55"/>
<circle cx="337.39" cy="205.48" r="1.1" fill="#b4c4e2" stroke="#3f62a4" stroke-width="0.55"/>
<circle cx="348.59" cy="209.24" r="1.1" fill="#b4c4e2" stroke="#3f62a4" stroke-width="0.55"/>
<circle cx="358.25" cy="206.67" r="1.1" fill="#b4c4e2" stroke="#3f62a4" stroke-width="0.55"/>
<circle cx="386.30" cy="196.19" r="1.1" fill="#b4c4e2" stroke="#3f62a4" stroke-width="0.55"/>
<circle cx="414.35" cy="196.19" r="1.1" fill="#b4c4e2" stroke="#3f62a4" stroke-width="0.55"/>
<circle cx="442.40" cy="196.19" r="1.1" fill="#b4c4e2" stroke="#3f62a4" stroke-width="0.55"/>
<circle cx="263.30" cy="195.00" r="1.1" fill="#b4c4e2" stroke="#3f62a4" stroke-width="0.55"/>
<circle cx="272.19" cy="195.92" r="1.1" fill="#b4c4e2" stroke="#3f62a4" stroke-width="0.55"/>
<circle cx="283.10" cy="197.76" r="1.1" fill="#b4c4e2" stroke="#3f62a4" stroke-width="0.55"/>
<circle cx="294.33" cy="203.27" r="1.1" fill="#b4c4e2" stroke="#3f62a4" stroke-width="0.55"/>
<circle cx="300.39" cy="201.43" r="1.1" fill="#b4c4e2" stroke="#3f62a4" stroke-width="0.55"/>
<circle cx="310.21" cy="200.51" r="1.1" fill="#b4c4e2" stroke="#3f62a4" stroke-width="0.55"/>
<circle cx="321.45" cy="202.35" r="1.1" fill="#b4c4e2" stroke="#3f62a4" stroke-width="0.55"/>
<circle cx="332.29" cy="204.19" r="1.1" fill="#b4c4e2" stroke="#3f62a4" stroke-width="0.55"/>
<circle cx="339.91" cy="207.87" r="1.1" fill="#b4c4e2" stroke="#3f62a4" stroke-width="0.55"/>
<circle cx="348.42" cy="214.76" r="1.1" fill="#b4c4e2" stroke="#3f62a4" stroke-width="0.55"/>
<circle cx="358.25" cy="211.54" r="1.1" fill="#b4c4e2" stroke="#3f62a4" stroke-width="0.55"/>
<circle cx="442.40" cy="227.16" r="1.1" fill="#b4c4e2" stroke="#3f62a4" stroke-width="0.55"/>
<circle cx="266.35" cy="195.92" r="1.1" fill="#b4c4e2" stroke="#3f62a4" stroke-width="0.55"/>
<circle cx="271.98" cy="197.76" r="1.1" fill="#b4c4e2" stroke="#3f62a4" stroke-width="0.55"/>
<circle cx="285.13" cy="203.27" r="1.1" fill="#b4c4e2" stroke="#3f62a4" stroke-width="0.55"/>
<circle cx="291.82" cy="205.11" r="1.1" fill="#b4c4e2" stroke="#3f62a4" stroke-width="0.55"/>
<circle cx="300.49" cy="206.95" r="1.1" fill="#b4c4e2" stroke="#3f62a4" stroke-width="0.55"/>
<circle cx="309.71" cy="212.46" r="1.1" fill="#b4c4e2" stroke="#3f62a4" stroke-width="0.55"/>
<circle cx="319.95" cy="217.06" r="1.1" fill="#b4c4e2" stroke="#3f62a4" stroke-width="0.55"/>
<circle cx="331.68" cy="220.09" r="1.1" fill="#b4c4e2" stroke="#3f62a4" stroke-width="0.55"/>
<circle cx="338.06" cy="221.65" r="1.1" fill="#b4c4e2" stroke="#3f62a4" stroke-width="0.55"/>
<circle cx="349.28" cy="225.51" r="1.1" fill="#b4c4e2" stroke="#3f62a4" stroke-width="0.55"/>
<circle cx="358.25" cy="225.51" r="1.1" fill="#b4c4e2" stroke="#3f62a4" stroke-width="0.55"/>
<circle cx="386.30" cy="230.38" r="1.1" fill="#b4c4e2" stroke="#3f62a4" stroke-width="0.55"/>
<circle cx="265.22" cy="201.43" r="1.1" fill="#b4c4e2" stroke="#3f62a4" stroke-width="0.55"/>
<circle cx="273.50" cy="203.27" r="1.1" fill="#b4c4e2" stroke="#3f62a4" stroke-width="0.55"/>
<circle cx="283.67" cy="206.95" r="1.1" fill="#b4c4e2" stroke="#3f62a4" stroke-width="0.55"/>
<circle cx="290.76" cy="210.62" r="1.1" fill="#b4c4e2" stroke="#3f62a4" stroke-width="0.55"/>
<circle cx="300.09" cy="212.46" r="1.1" fill="#b4c4e2" stroke="#3f62a4" stroke-width="0.55"/>
<circle cx="310.13" cy="216.14" r="1.1" fill="#b4c4e2" stroke="#3f62a4" stroke-width="0.55"/>
<circle cx="321.69" cy="218.89" r="1.1" fill="#b4c4e2" stroke="#3f62a4" stroke-width="0.55"/>
<circle cx="329.86" cy="222.57" r="1.1" fill="#b4c4e2" stroke="#3f62a4" stroke-width="0.55"/>
<circle cx="338.68" cy="227.16" r="1.1" fill="#b4c4e2" stroke="#3f62a4" stroke-width="0.55"/>
<circle cx="265.04" cy="194.63" r="1.1" fill="#b4c4e2" stroke="#3f62a4" stroke-width="0.55"/>
<circle cx="273.88" cy="198.68" r="1.1" fill="#b4c4e2" stroke="#3f62a4" stroke-width="0.55"/>
<circle cx="282.51" cy="201.43" r="1.1" fill="#b4c4e2" stroke="#3f62a4" stroke-width="0.55"/>
<circle cx="294.18" cy="204.19" r="1.1" fill="#b4c4e2" stroke="#3f62a4" stroke-width="0.55"/>
<circle cx="303.08" cy="208.78" r="1.1" fill="#b4c4e2" stroke="#3f62a4" stroke-width="0.55"/>
<circle cx="310.30" cy="210.62" r="1.1" fill="#b4c4e2" stroke="#3f62a4" stroke-width="0.55"/>
<circle cx="321.20" cy="214.30" r="1.1" fill="#b4c4e2" stroke="#3f62a4" stroke-width="0.55"/>
<circle cx="264.83" cy="205.84" r="1.1" fill="#b4c4e2" stroke="#3f62a4" stroke-width="0.55"/>
<circle cx="275.85" cy="208.78" r="1.1" fill="#b4c4e2" stroke="#3f62a4" stroke-width="0.55"/>
<circle cx="284.52" cy="212.46" r="1.1" fill="#b4c4e2" stroke="#3f62a4" stroke-width="0.55"/>
<circle cx="291.81" cy="221.65" r="1.1" fill="#b4c4e2" stroke="#3f62a4" stroke-width="0.55"/>
<circle cx="304.39" cy="225.33" r="1.1" fill="#b4c4e2" stroke="#3f62a4" stroke-width="0.55"/>
<circle cx="309.71" cy="229.00" r="1.1" fill="#b4c4e2" stroke="#3f62a4" stroke-width="0.55"/>
<circle cx="320.47" cy="230.84" r="1.1" fill="#b4c4e2" stroke="#3f62a4" stroke-width="0.55"/>
<circle cx="331.40" cy="235.44" r="1.1" fill="#b4c4e2" stroke="#3f62a4" stroke-width="0.55"/>
<circle cx="263.58" cy="201.98" r="1.1" fill="#b4c4e2" stroke="#3f62a4" stroke-width="0.55"/>
<circle cx="274.05" cy="204.19" r="1.1" fill="#b4c4e2" stroke="#3f62a4" stroke-width="0.55"/>
<circle cx="281.30" cy="208.78" r="1.1" fill="#b4c4e2" stroke="#3f62a4" stroke-width="0.55"/>
<circle cx="293.59" cy="216.14" r="1.1" fill="#b4c4e2" stroke="#3f62a4" stroke-width="0.55"/>
<circle cx="303.39" cy="221.65" r="1.1" fill="#b4c4e2" stroke="#3f62a4" stroke-width="0.55"/>
<circle cx="311.84" cy="222.57" r="1.1" fill="#b4c4e2" stroke="#3f62a4" stroke-width="0.55"/>
<circle cx="322.61" cy="234.52" r="1.1" fill="#b4c4e2" stroke="#3f62a4" stroke-width="0.55"/>
<circle cx="264.12" cy="194.08" r="1.1" fill="#b4c4e2" stroke="#3f62a4" stroke-width="0.55"/>
<circle cx="275.01" cy="196.84" r="1.1" fill="#b4c4e2" stroke="#3f62a4" stroke-width="0.55"/>
<circle cx="283.89" cy="205.11" r="1.1" fill="#b4c4e2" stroke="#3f62a4" stroke-width="0.55"/>
<circle cx="293.17" cy="212.46" r="1.1" fill="#b4c4e2" stroke="#3f62a4" stroke-width="0.55"/>
<circle cx="301.95" cy="217.97" r="1.1" fill="#b4c4e2" stroke="#3f62a4" stroke-width="0.55"/>
<circle cx="313.09" cy="241.87" r="1.1" fill="#b4c4e2" stroke="#3f62a4" stroke-width="0.55"/>
<circle cx="266.25" cy="197.76" r="1.1" fill="#b4c4e2" stroke="#3f62a4" stroke-width="0.55"/>
<circle cx="273.98" cy="206.95" r="1.1" fill="#b4c4e2" stroke="#3f62a4" stroke-width="0.55"/>
<circle cx="284.22" cy="219.81" r="1.1" fill="#b4c4e2" stroke="#3f62a4" stroke-width="0.55"/>
<circle cx="290.75" cy="228.08" r="1.1" fill="#b4c4e2" stroke="#3f62a4" stroke-width="0.55"/>
<circle cx="303.09" cy="237.27" r="1.1" fill="#b4c4e2" stroke="#3f62a4" stroke-width="0.55"/>
<circle cx="265.25" cy="218.71" r="1.1" fill="#b4c4e2" stroke="#3f62a4" stroke-width="0.55"/>
<circle cx="276.41" cy="227.16" r="1.1" fill="#b4c4e2" stroke="#3f62a4" stroke-width="0.55"/>
<circle cx="284.95" cy="240.03" r="1.1" fill="#b4c4e2" stroke="#3f62a4" stroke-width="0.55"/>
<circle cx="264.02" cy="201.52" r="1.1" fill="#b4c4e2" stroke="#3f62a4" stroke-width="0.55"/>
<circle cx="273.57" cy="218.89" r="1.1" fill="#b4c4e2" stroke="#3f62a4" stroke-width="0.55"/>
<circle cx="284.24" cy="230.84" r="1.1" fill="#b4c4e2" stroke="#3f62a4" stroke-width="0.55"/>
<circle cx="263.14" cy="221.19" r="1.1" fill="#b4c4e2" stroke="#3f62a4" stroke-width="0.55"/>
<line x1="255.40" y1="175.7" x2="255.40" y2="268.1" stroke="#111" stroke-width="1.0"/>
<line x1="254.90" y1="267.6" x2="451.20" y2="267.6" stroke="#111" stroke-width="1"/>
<line x1="274" y1="267.6" x2="330" y2="267.6" stroke="#4a6aa8" stroke-width="0.9"/>
<circle cx="274.00" cy="267.6" r="1.1" fill="#3f62a4" stroke="#3f62a4" stroke-width="0.55"/>
<circle cx="283.50" cy="267.6" r="1.1" fill="#3f62a4" stroke="#3f62a4" stroke-width="0.55"/>
<circle cx="287.20" cy="267.6" r="1.1" fill="#3f62a4" stroke="#3f62a4" stroke-width="0.55"/>
<circle cx="290.90" cy="267.6" r="1.1" fill="#3f62a4" stroke="#3f62a4" stroke-width="0.55"/>
<circle cx="294.60" cy="267.6" r="1.1" fill="#3f62a4" stroke="#3f62a4" stroke-width="0.55"/>
<circle cx="298.30" cy="267.6" r="1.1" fill="#3f62a4" stroke="#3f62a4" stroke-width="0.55"/>
<circle cx="302.00" cy="267.6" r="1.1" fill="#3f62a4" stroke="#3f62a4" stroke-width="0.55"/>
<circle cx="305.70" cy="267.6" r="1.1" fill="#3f62a4" stroke="#3f62a4" stroke-width="0.55"/>
<circle cx="309.40" cy="267.6" r="1.1" fill="#3f62a4" stroke="#3f62a4" stroke-width="0.55"/>
<circle cx="313.10" cy="267.6" r="1.1" fill="#3f62a4" stroke="#3f62a4" stroke-width="0.55"/>
<circle cx="316.80" cy="267.6" r="1.1" fill="#3f62a4" stroke="#3f62a4" stroke-width="0.55"/>
<circle cx="320.50" cy="267.6" r="1.1" fill="#3f62a4" stroke="#3f62a4" stroke-width="0.55"/>
<circle cx="324.20" cy="267.6" r="1.1" fill="#3f62a4" stroke="#3f62a4" stroke-width="0.55"/>
<circle cx="327.90" cy="267.6" r="1.1" fill="#3f62a4" stroke="#3f62a4" stroke-width="0.55"/>
<polyline points="264.75,197.76 274.10,205.48 283.45,209.89 292.80,217.06 302.15,226.25 311.50,222.84 320.85,234.79 330.20,267.60 447.07,267.60" fill="none" stroke="#326f8c" stroke-width="2.1" stroke-linejoin="round"/>
<line x1="252.40" y1="267.60" x2="255.40" y2="267.60" stroke="#111" stroke-width="0.9"/>
<text x="248.29" y="270.77" font-size="8.200" textLength="4.33" lengthAdjust="spacingAndGlyphs" fill="#111" font-weight="normal" stroke="#111" stroke-width="0.12" >0</text>
<line x1="252.40" y1="249.22" x2="255.40" y2="249.22" stroke="#111" stroke-width="0.9"/>
<text x="248.37" y="252.39" font-size="8.200" textLength="4.33" lengthAdjust="spacingAndGlyphs" fill="#111" font-weight="normal" stroke="#111" stroke-width="0.12" >2</text>
<line x1="252.40" y1="230.84" x2="255.40" y2="230.84" stroke="#111" stroke-width="0.9"/>
<text x="248.21" y="233.97" font-size="8.200" textLength="4.33" lengthAdjust="spacingAndGlyphs" fill="#111" font-weight="normal" stroke="#111" stroke-width="0.12" >4</text>
<line x1="252.40" y1="212.46" x2="255.40" y2="212.46" stroke="#111" stroke-width="0.9"/>
<text x="248.33" y="215.63" font-size="8.200" textLength="4.33" lengthAdjust="spacingAndGlyphs" fill="#111" font-weight="normal" stroke="#111" stroke-width="0.12" >6</text>
<line x1="252.40" y1="194.08" x2="255.40" y2="194.08" stroke="#111" stroke-width="0.9"/>
<text x="248.29" y="197.25" font-size="8.200" textLength="4.33" lengthAdjust="spacingAndGlyphs" fill="#111" font-weight="normal" stroke="#111" stroke-width="0.12" >8</text>
<line x1="252.40" y1="175.70" x2="255.40" y2="175.70" stroke="#111" stroke-width="0.9"/>
<text x="243.96" y="178.87" font-size="8.200" textLength="8.67" lengthAdjust="spacingAndGlyphs" fill="#111" font-weight="normal" stroke="#111" stroke-width="0.12" >10</text>
<line x1="255.40" y1="267.6" x2="255.40" y2="269.7" stroke="#111" stroke-width="0.9"/>
<text x="253.31" y="278.07" font-size="8.100" textLength="4.19" lengthAdjust="spacingAndGlyphs" fill="#111" font-weight="normal" stroke="#111" stroke-width="0.12" >0</text>
<line x1="274.10" y1="267.6" x2="274.10" y2="269.7" stroke="#111" stroke-width="0.9"/>
<text x="272.01" y="278.07" font-size="8.100" textLength="4.19" lengthAdjust="spacingAndGlyphs" fill="#111" font-weight="normal" stroke="#111" stroke-width="0.12" >2</text>
<line x1="292.80" y1="267.6" x2="292.80" y2="269.7" stroke="#111" stroke-width="0.9"/>
<text x="290.73" y="277.99" font-size="8.100" textLength="4.19" lengthAdjust="spacingAndGlyphs" fill="#111" font-weight="normal" stroke="#111" stroke-width="0.12" >4</text>
<line x1="311.50" y1="267.6" x2="311.50" y2="269.7" stroke="#111" stroke-width="0.9"/>
<text x="309.39" y="278.07" font-size="8.100" textLength="4.19" lengthAdjust="spacingAndGlyphs" fill="#111" font-weight="normal" stroke="#111" stroke-width="0.12" >6</text>
<line x1="330.20" y1="267.6" x2="330.20" y2="269.7" stroke="#111" stroke-width="0.9"/>
<text x="328.09" y="278.07" font-size="8.100" textLength="4.19" lengthAdjust="spacingAndGlyphs" fill="#111" font-weight="normal" stroke="#111" stroke-width="0.12" >8</text>
<line x1="348.90" y1="267.6" x2="348.90" y2="269.7" stroke="#111" stroke-width="0.9"/>
<text x="344.59" y="278.07" font-size="8.100" textLength="8.38" lengthAdjust="spacingAndGlyphs" fill="#111" font-weight="normal" stroke="#111" stroke-width="0.12" >10</text>
<line x1="367.60" y1="267.6" x2="367.60" y2="269.7" stroke="#111" stroke-width="0.9"/>
<text x="363.33" y="278.07" font-size="8.100" textLength="8.38" lengthAdjust="spacingAndGlyphs" fill="#111" font-weight="normal" stroke="#111" stroke-width="0.12" >12</text>
<line x1="386.30" y1="267.6" x2="386.30" y2="269.7" stroke="#111" stroke-width="0.9"/>
<text x="381.95" y="277.99" font-size="8.100" textLength="8.38" lengthAdjust="spacingAndGlyphs" fill="#111" font-weight="normal" stroke="#111" stroke-width="0.12" >14</text>
<line x1="405.00" y1="267.6" x2="405.00" y2="269.7" stroke="#111" stroke-width="0.9"/>
<text x="400.71" y="278.07" font-size="8.100" textLength="8.38" lengthAdjust="spacingAndGlyphs" fill="#111" font-weight="normal" stroke="#111" stroke-width="0.12" >16</text>
<line x1="423.70" y1="267.6" x2="423.70" y2="269.7" stroke="#111" stroke-width="0.9"/>
<text x="419.39" y="278.07" font-size="8.100" textLength="8.38" lengthAdjust="spacingAndGlyphs" fill="#111" font-weight="normal" stroke="#111" stroke-width="0.12" >18</text>
<line x1="442.40" y1="267.6" x2="442.40" y2="269.7" stroke="#111" stroke-width="0.9"/>
<text x="438.18" y="278.07" font-size="8.100" textLength="8.38" lengthAdjust="spacingAndGlyphs" fill="#111" font-weight="normal" stroke="#111" stroke-width="0.12" >20</text>
<text x="300.34" y="289.10" font-size="7.862" textLength="107.77" lengthAdjust="spacingAndGlyphs" fill="#222" font-weight="normal" stroke="#222" stroke-width="0.12" >Time (days post-AIEC gavage)</text>
<text x="334.35" y="172.50" font-size="8.714" textLength="39.00" lengthAdjust="spacingAndGlyphs" fill="#222" font-weight="bold" stroke="#222" stroke-width="0.15" >+ARO112</text>
<text transform="translate(239.10,261.30) rotate(-90)" x="0" y="0" font-size="8.3" textLength="84.60" lengthAdjust="spacingAndGlyphs" fill="#111" stroke="#111" stroke-width="0.1">AIEC log<tspan font-size="5.6" dy="2.1">10</tspan><tspan dy="-2.1">CFUs/g feces</tspan></text>
<rect x="489.00" y="249.2" width="194.00" height="18.4" fill="#d5d5d5"/>
<line x1="489.00" y1="249.4" x2="683.00" y2="249.4" stroke="#8a8a8a" stroke-width="0.75" stroke-dasharray="3.2 0.8"/>
<text x="642.91" y="260.40" font-size="6.759" textLength="38.86" lengthAdjust="spacingAndGlyphs" fill="#222" font-weight="normal" stroke="#222" stroke-width="0.1" >Detection limit</text>
<line x1="498.50" y1="176" x2="498.50" y2="267.6" stroke="#222222" stroke-width="0.8" stroke-dasharray="1.6 0.6"/>
<polyline points="498.20,194.54 507.88,194.08 518.57,200.15 526.19,202.99 535.68,204.83 545.31,204.83 553.13,199.69 563.68,204.65 573.45,204.74 583.39,200.60 590.12,199.96 618.89,203.09 646.08,200.60 676.76,205.20" fill="none" stroke="#c39255" stroke-width="0.5"/>
<polyline points="498.87,196.29 505.95,199.23 518.79,198.22 528.05,204.83 536.22,206.21 545.41,205.29 553.03,206.03 561.83,204.19 573.08,205.57 580.66,207.87 590.47,202.72 618.66,204.74 645.86,204.28 675.47,205.20" fill="none" stroke="#c39255" stroke-width="0.5"/>
<polyline points="498.16,199.23 508.94,201.98 517.06,206.03 526.84,206.03 535.65,205.11 545.59,206.03 554.15,206.95 562.81,206.95 574.83,207.87 584.15,206.95 592.90,206.85 620.40,208.88 646.92,210.90 674.59,205.20" fill="none" stroke="#c39255" stroke-width="0.5"/>
<polyline points="497.74,203.91 506.06,204.19 517.98,211.54 525.95,211.54 536.94,213.38 544.56,206.95 556.02,209.70 564.94,209.70 571.11,210.90 581.22,219.17 593.16,216.14 619.51,216.14 649.40,212.00 675.22,213.38" fill="none" stroke="#c39255" stroke-width="0.5"/>
<polyline points="497.13,206.21 508.14,210.62 518.03,223.76 525.46,220.91 534.11,221.93 544.36,220.00 556.04,220.55 564.60,216.14 571.54,217.70 581.35,219.17 590.14,223.67 617.98,223.67 648.72,219.17 674.40,218.07" fill="none" stroke="#c39255" stroke-width="0.5"/>
<polyline points="498.50,210.62 507.46,214.30 515.84,225.60 527.19,225.60 534.27,224.68 545.52,225.60 552.88,225.33 563.34,225.33 571.90,217.97 581.44,232.68 593.39,224.96 620.75,229.92 646.88,227.81 677.04,221.19" fill="none" stroke="#c39255" stroke-width="0.5"/>
<polyline points="497.52,217.33 507.27,227.16 518.31,239.85 526.85,229.92 534.16,229.37 546.81,226.89 553.24,229.37 562.74,235.07 573.99,236.08 581.66,232.68 590.87,234.52 618.03,237.27 646.08,231.12 675.91,229.92" fill="none" stroke="#c39255" stroke-width="0.5"/>
<polyline points="494.60,197.30 506.70,201.43 517.37,207.87 525.84,212.46 535.48,221.65 546.69,219.81 554.25,210.62 563.92,209.70 574.34,211.54 581.12,212.46 590.34,212.46 621.14,210.62 676.79,223.30" fill="none" stroke="#c39255" stroke-width="0.5"/>
<polyline points="497.63,225.60 506.50,240.95 516.99,267.60" fill="none" stroke="#c39255" stroke-width="0.5"/>
<circle cx="498.20" cy="194.54" r="1.15" fill="#dcbd92" stroke="#a26f31" stroke-width="0.55"/>
<circle cx="507.88" cy="194.08" r="1.15" fill="#dcbd92" stroke="#a26f31" stroke-width="0.55"/>
<circle cx="518.57" cy="200.15" r="1.15" fill="#dcbd92" stroke="#a26f31" stroke-width="0.55"/>
<circle cx="526.19" cy="202.99" r="1.15" fill="#dcbd92" stroke="#a26f31" stroke-width="0.55"/>
<circle cx="535.68" cy="204.83" r="1.15" fill="#dcbd92" stroke="#a26f31" stroke-width="0.55"/>
<circle cx="545.31" cy="204.83" r="1.15" fill="#dcbd92" stroke="#a26f31" stroke-width="0.55"/>
<circle cx="553.13" cy="199.69" r="1.15" fill="#dcbd92" stroke="#a26f31" stroke-width="0.55"/>
<circle cx="563.68" cy="204.65" r="1.15" fill="#dcbd92" stroke="#a26f31" stroke-width="0.55"/>
<circle cx="573.45" cy="204.74" r="1.15" fill="#dcbd92" stroke="#a26f31" stroke-width="0.55"/>
<circle cx="583.39" cy="200.60" r="1.15" fill="#dcbd92" stroke="#a26f31" stroke-width="0.55"/>
<circle cx="590.12" cy="199.96" r="1.15" fill="#dcbd92" stroke="#a26f31" stroke-width="0.55"/>
<circle cx="618.89" cy="203.09" r="1.15" fill="#dcbd92" stroke="#a26f31" stroke-width="0.55"/>
<circle cx="646.08" cy="200.60" r="1.15" fill="#dcbd92" stroke="#a26f31" stroke-width="0.55"/>
<circle cx="676.76" cy="205.20" r="1.15" fill="#dcbd92" stroke="#a26f31" stroke-width="0.55"/>
<circle cx="498.87" cy="196.29" r="1.15" fill="#dcbd92" stroke="#a26f31" stroke-width="0.55"/>
<circle cx="505.95" cy="199.23" r="1.15" fill="#dcbd92" stroke="#a26f31" stroke-width="0.55"/>
<circle cx="518.79" cy="198.22" r="1.15" fill="#dcbd92" stroke="#a26f31" stroke-width="0.55"/>
<circle cx="528.05" cy="204.83" r="1.15" fill="#dcbd92" stroke="#a26f31" stroke-width="0.55"/>
<circle cx="536.22" cy="206.21" r="1.15" fill="#dcbd92" stroke="#a26f31" stroke-width="0.55"/>
<circle cx="545.41" cy="205.29" r="1.15" fill="#dcbd92" stroke="#a26f31" stroke-width="0.55"/>
<circle cx="553.03" cy="206.03" r="1.15" fill="#dcbd92" stroke="#a26f31" stroke-width="0.55"/>
<circle cx="561.83" cy="204.19" r="1.15" fill="#dcbd92" stroke="#a26f31" stroke-width="0.55"/>
<circle cx="573.08" cy="205.57" r="1.15" fill="#dcbd92" stroke="#a26f31" stroke-width="0.55"/>
<circle cx="580.66" cy="207.87" r="1.15" fill="#dcbd92" stroke="#a26f31" stroke-width="0.55"/>
<circle cx="590.47" cy="202.72" r="1.15" fill="#dcbd92" stroke="#a26f31" stroke-width="0.55"/>
<circle cx="618.66" cy="204.74" r="1.15" fill="#dcbd92" stroke="#a26f31" stroke-width="0.55"/>
<circle cx="645.86" cy="204.28" r="1.15" fill="#dcbd92" stroke="#a26f31" stroke-width="0.55"/>
<circle cx="675.47" cy="205.20" r="1.15" fill="#dcbd92" stroke="#a26f31" stroke-width="0.55"/>
<circle cx="498.16" cy="199.23" r="1.15" fill="#dcbd92" stroke="#a26f31" stroke-width="0.55"/>
<circle cx="508.94" cy="201.98" r="1.15" fill="#dcbd92" stroke="#a26f31" stroke-width="0.55"/>
<circle cx="517.06" cy="206.03" r="1.15" fill="#dcbd92" stroke="#a26f31" stroke-width="0.55"/>
<circle cx="526.84" cy="206.03" r="1.15" fill="#dcbd92" stroke="#a26f31" stroke-width="0.55"/>
<circle cx="535.65" cy="205.11" r="1.15" fill="#dcbd92" stroke="#a26f31" stroke-width="0.55"/>
<circle cx="545.59" cy="206.03" r="1.15" fill="#dcbd92" stroke="#a26f31" stroke-width="0.55"/>
<circle cx="554.15" cy="206.95" r="1.15" fill="#dcbd92" stroke="#a26f31" stroke-width="0.55"/>
<circle cx="562.81" cy="206.95" r="1.15" fill="#dcbd92" stroke="#a26f31" stroke-width="0.55"/>
<circle cx="574.83" cy="207.87" r="1.15" fill="#dcbd92" stroke="#a26f31" stroke-width="0.55"/>
<circle cx="584.15" cy="206.95" r="1.15" fill="#dcbd92" stroke="#a26f31" stroke-width="0.55"/>
<circle cx="592.90" cy="206.85" r="1.15" fill="#dcbd92" stroke="#a26f31" stroke-width="0.55"/>
<circle cx="620.40" cy="208.88" r="1.15" fill="#dcbd92" stroke="#a26f31" stroke-width="0.55"/>
<circle cx="646.92" cy="210.90" r="1.15" fill="#dcbd92" stroke="#a26f31" stroke-width="0.55"/>
<circle cx="674.59" cy="205.20" r="1.15" fill="#dcbd92" stroke="#a26f31" stroke-width="0.55"/>
<circle cx="497.74" cy="203.91" r="1.15" fill="#dcbd92" stroke="#a26f31" stroke-width="0.55"/>
<circle cx="506.06" cy="204.19" r="1.15" fill="#dcbd92" stroke="#a26f31" stroke-width="0.55"/>
<circle cx="517.98" cy="211.54" r="1.15" fill="#dcbd92" stroke="#a26f31" stroke-width="0.55"/>
<circle cx="525.95" cy="211.54" r="1.15" fill="#dcbd92" stroke="#a26f31" stroke-width="0.55"/>
<circle cx="536.94" cy="213.38" r="1.15" fill="#dcbd92" stroke="#a26f31" stroke-width="0.55"/>
<circle cx="544.56" cy="206.95" r="1.15" fill="#dcbd92" stroke="#a26f31" stroke-width="0.55"/>
<circle cx="556.02" cy="209.70" r="1.15" fill="#dcbd92" stroke="#a26f31" stroke-width="0.55"/>
<circle cx="564.94" cy="209.70" r="1.15" fill="#dcbd92" stroke="#a26f31" stroke-width="0.55"/>
<circle cx="571.11" cy="210.90" r="1.15" fill="#dcbd92" stroke="#a26f31" stroke-width="0.55"/>
<circle cx="581.22" cy="219.17" r="1.15" fill="#dcbd92" stroke="#a26f31" stroke-width="0.55"/>
<circle cx="593.16" cy="216.14" r="1.15" fill="#dcbd92" stroke="#a26f31" stroke-width="0.55"/>
<circle cx="619.51" cy="216.14" r="1.15" fill="#dcbd92" stroke="#a26f31" stroke-width="0.55"/>
<circle cx="649.40" cy="212.00" r="1.15" fill="#dcbd92" stroke="#a26f31" stroke-width="0.55"/>
<circle cx="675.22" cy="213.38" r="1.15" fill="#dcbd92" stroke="#a26f31" stroke-width="0.55"/>
<circle cx="497.13" cy="206.21" r="1.15" fill="#dcbd92" stroke="#a26f31" stroke-width="0.55"/>
<circle cx="508.14" cy="210.62" r="1.15" fill="#dcbd92" stroke="#a26f31" stroke-width="0.55"/>
<circle cx="518.03" cy="223.76" r="1.15" fill="#dcbd92" stroke="#a26f31" stroke-width="0.55"/>
<circle cx="525.46" cy="220.91" r="1.15" fill="#dcbd92" stroke="#a26f31" stroke-width="0.55"/>
<circle cx="534.11" cy="221.93" r="1.15" fill="#dcbd92" stroke="#a26f31" stroke-width="0.55"/>
<circle cx="544.36" cy="220.00" r="1.15" fill="#dcbd92" stroke="#a26f31" stroke-width="0.55"/>
<circle cx="556.04" cy="220.55" r="1.15" fill="#dcbd92" stroke="#a26f31" stroke-width="0.55"/>
<circle cx="564.60" cy="216.14" r="1.15" fill="#dcbd92" stroke="#a26f31" stroke-width="0.55"/>
<circle cx="571.54" cy="217.70" r="1.15" fill="#dcbd92" stroke="#a26f31" stroke-width="0.55"/>
<circle cx="581.35" cy="219.17" r="1.15" fill="#dcbd92" stroke="#a26f31" stroke-width="0.55"/>
<circle cx="590.14" cy="223.67" r="1.15" fill="#dcbd92" stroke="#a26f31" stroke-width="0.55"/>
<circle cx="617.98" cy="223.67" r="1.15" fill="#dcbd92" stroke="#a26f31" stroke-width="0.55"/>
<circle cx="648.72" cy="219.17" r="1.15" fill="#dcbd92" stroke="#a26f31" stroke-width="0.55"/>
<circle cx="674.40" cy="218.07" r="1.15" fill="#dcbd92" stroke="#a26f31" stroke-width="0.55"/>
<circle cx="498.50" cy="210.62" r="1.15" fill="#dcbd92" stroke="#a26f31" stroke-width="0.55"/>
<circle cx="507.46" cy="214.30" r="1.15" fill="#dcbd92" stroke="#a26f31" stroke-width="0.55"/>
<circle cx="515.84" cy="225.60" r="1.15" fill="#dcbd92" stroke="#a26f31" stroke-width="0.55"/>
<circle cx="527.19" cy="225.60" r="1.15" fill="#dcbd92" stroke="#a26f31" stroke-width="0.55"/>
<circle cx="534.27" cy="224.68" r="1.15" fill="#dcbd92" stroke="#a26f31" stroke-width="0.55"/>
<circle cx="545.52" cy="225.60" r="1.15" fill="#dcbd92" stroke="#a26f31" stroke-width="0.55"/>
<circle cx="552.88" cy="225.33" r="1.15" fill="#dcbd92" stroke="#a26f31" stroke-width="0.55"/>
<circle cx="563.34" cy="225.33" r="1.15" fill="#dcbd92" stroke="#a26f31" stroke-width="0.55"/>
<circle cx="571.90" cy="217.97" r="1.15" fill="#dcbd92" stroke="#a26f31" stroke-width="0.55"/>
<circle cx="581.44" cy="232.68" r="1.15" fill="#dcbd92" stroke="#a26f31" stroke-width="0.55"/>
<circle cx="593.39" cy="224.96" r="1.15" fill="#dcbd92" stroke="#a26f31" stroke-width="0.55"/>
<circle cx="620.75" cy="229.92" r="1.15" fill="#dcbd92" stroke="#a26f31" stroke-width="0.55"/>
<circle cx="646.88" cy="227.81" r="1.15" fill="#dcbd92" stroke="#a26f31" stroke-width="0.55"/>
<circle cx="677.04" cy="221.19" r="1.15" fill="#dcbd92" stroke="#a26f31" stroke-width="0.55"/>
<circle cx="497.52" cy="217.33" r="1.15" fill="#dcbd92" stroke="#a26f31" stroke-width="0.55"/>
<circle cx="507.27" cy="227.16" r="1.15" fill="#dcbd92" stroke="#a26f31" stroke-width="0.55"/>
<circle cx="518.31" cy="239.85" r="1.15" fill="#dcbd92" stroke="#a26f31" stroke-width="0.55"/>
<circle cx="526.85" cy="229.92" r="1.15" fill="#dcbd92" stroke="#a26f31" stroke-width="0.55"/>
<circle cx="534.16" cy="229.37" r="1.15" fill="#dcbd92" stroke="#a26f31" stroke-width="0.55"/>
<circle cx="546.81" cy="226.89" r="1.15" fill="#dcbd92" stroke="#a26f31" stroke-width="0.55"/>
<circle cx="553.24" cy="229.37" r="1.15" fill="#dcbd92" stroke="#a26f31" stroke-width="0.55"/>
<circle cx="562.74" cy="235.07" r="1.15" fill="#dcbd92" stroke="#a26f31" stroke-width="0.55"/>
<circle cx="573.99" cy="236.08" r="1.15" fill="#dcbd92" stroke="#a26f31" stroke-width="0.55"/>
<circle cx="581.66" cy="232.68" r="1.15" fill="#dcbd92" stroke="#a26f31" stroke-width="0.55"/>
<circle cx="590.87" cy="234.52" r="1.15" fill="#dcbd92" stroke="#a26f31" stroke-width="0.55"/>
<circle cx="618.03" cy="237.27" r="1.15" fill="#dcbd92" stroke="#a26f31" stroke-width="0.55"/>
<circle cx="646.08" cy="231.12" r="1.15" fill="#dcbd92" stroke="#a26f31" stroke-width="0.55"/>
<circle cx="675.91" cy="229.92" r="1.15" fill="#dcbd92" stroke="#a26f31" stroke-width="0.55"/>
<circle cx="494.60" cy="197.30" r="1.15" fill="#dcbd92" stroke="#a26f31" stroke-width="0.55"/>
<circle cx="506.70" cy="201.43" r="1.15" fill="#dcbd92" stroke="#a26f31" stroke-width="0.55"/>
<circle cx="517.37" cy="207.87" r="1.15" fill="#dcbd92" stroke="#a26f31" stroke-width="0.55"/>
<circle cx="525.84" cy="212.46" r="1.15" fill="#dcbd92" stroke="#a26f31" stroke-width="0.55"/>
<circle cx="535.48" cy="221.65" r="1.15" fill="#dcbd92" stroke="#a26f31" stroke-width="0.55"/>
<circle cx="546.69" cy="219.81" r="1.15" fill="#dcbd92" stroke="#a26f31" stroke-width="0.55"/>
<circle cx="554.25" cy="210.62" r="1.15" fill="#dcbd92" stroke="#a26f31" stroke-width="0.55"/>
<circle cx="563.92" cy="209.70" r="1.15" fill="#dcbd92" stroke="#a26f31" stroke-width="0.55"/>
<circle cx="574.34" cy="211.54" r="1.15" fill="#dcbd92" stroke="#a26f31" stroke-width="0.55"/>
<circle cx="581.12" cy="212.46" r="1.15" fill="#dcbd92" stroke="#a26f31" stroke-width="0.55"/>
<circle cx="590.34" cy="212.46" r="1.15" fill="#dcbd92" stroke="#a26f31" stroke-width="0.55"/>
<circle cx="621.14" cy="210.62" r="1.15" fill="#dcbd92" stroke="#a26f31" stroke-width="0.55"/>
<circle cx="676.79" cy="223.30" r="1.15" fill="#dcbd92" stroke="#a26f31" stroke-width="0.55"/>
<circle cx="497.63" cy="225.60" r="1.15" fill="#dcbd92" stroke="#a26f31" stroke-width="0.55"/>
<circle cx="506.50" cy="240.95" r="1.15" fill="#dcbd92" stroke="#a26f31" stroke-width="0.55"/>
<line x1="489.00" y1="175.7" x2="489.00" y2="268.1" stroke="#787878" stroke-width="1.4"/>
<line x1="488.50" y1="267.6" x2="683.00" y2="267.6" stroke="#111" stroke-width="1"/>
<line x1="516.9" y1="267.6" x2="683" y2="267.6" stroke="#9a6a30" stroke-width="0.9"/>
<circle cx="516.99" cy="267.6" r="1.15" fill="#a26f31" stroke="#a26f31" stroke-width="0.55"/>
<circle cx="526.32" cy="267.6" r="1.15" fill="#a26f31" stroke="#a26f31" stroke-width="0.55"/>
<circle cx="535.65" cy="267.6" r="1.15" fill="#a26f31" stroke="#a26f31" stroke-width="0.55"/>
<circle cx="544.98" cy="267.6" r="1.15" fill="#a26f31" stroke="#a26f31" stroke-width="0.55"/>
<circle cx="554.31" cy="267.6" r="1.15" fill="#a26f31" stroke="#a26f31" stroke-width="0.55"/>
<circle cx="563.64" cy="267.6" r="1.15" fill="#a26f31" stroke="#a26f31" stroke-width="0.55"/>
<circle cx="572.97" cy="267.6" r="1.15" fill="#a26f31" stroke="#a26f31" stroke-width="0.55"/>
<circle cx="582.30" cy="267.6" r="1.15" fill="#a26f31" stroke="#a26f31" stroke-width="0.55"/>
<circle cx="591.63" cy="267.6" r="1.15" fill="#a26f31" stroke="#a26f31" stroke-width="0.55"/>
<circle cx="619.62" cy="267.6" r="1.15" fill="#a26f31" stroke="#a26f31" stroke-width="0.55"/>
<circle cx="647.61" cy="267.6" r="1.15" fill="#a26f31" stroke="#a26f31" stroke-width="0.55"/>
<circle cx="675.60" cy="267.6" r="1.15" fill="#a26f31" stroke="#a26f31" stroke-width="0.55"/>
<polyline points="498.33,199.13 507.66,207.87 516.99,211.82 526.32,214.76 535.65,217.06 544.98,211.82 554.31,209.70 563.64,209.24 572.97,210.62 582.30,212.00 591.63,212.92 619.62,213.38 647.61,212.00 675.60,216.14" fill="none" stroke="#a1661f" stroke-width="1.9" stroke-linejoin="round"/>
<line x1="486.00" y1="267.60" x2="489.00" y2="267.60" stroke="#111" stroke-width="0.9"/>
<text x="481.89" y="270.77" font-size="8.200" textLength="4.33" lengthAdjust="spacingAndGlyphs" fill="#111" font-weight="normal" stroke="#111" stroke-width="0.12" >0</text>
<line x1="486.00" y1="249.22" x2="489.00" y2="249.22" stroke="#111" stroke-width="0.9"/>
<text x="481.97" y="252.39" font-size="8.200" textLength="4.33" lengthAdjust="spacingAndGlyphs" fill="#111" font-weight="normal" stroke="#111" stroke-width="0.12" >2</text>
<line x1="486.00" y1="230.84" x2="489.00" y2="230.84" stroke="#111" stroke-width="0.9"/>
<text x="481.81" y="233.97" font-size="8.200" textLength="4.33" lengthAdjust="spacingAndGlyphs" fill="#111" font-weight="normal" stroke="#111" stroke-width="0.12" >4</text>
<line x1="486.00" y1="212.46" x2="489.00" y2="212.46" stroke="#111" stroke-width="0.9"/>
<text x="481.93" y="215.63" font-size="8.200" textLength="4.33" lengthAdjust="spacingAndGlyphs" fill="#111" font-weight="normal" stroke="#111" stroke-width="0.12" >6</text>
<line x1="486.00" y1="194.08" x2="489.00" y2="194.08" stroke="#111" stroke-width="0.9"/>
<text x="481.89" y="197.25" font-size="8.200" textLength="4.33" lengthAdjust="spacingAndGlyphs" fill="#111" font-weight="normal" stroke="#111" stroke-width="0.12" >8</text>
<line x1="486.00" y1="175.70" x2="489.00" y2="175.70" stroke="#111" stroke-width="0.9"/>
<text x="477.56" y="178.87" font-size="8.200" textLength="8.67" lengthAdjust="spacingAndGlyphs" fill="#111" font-weight="normal" stroke="#111" stroke-width="0.12" >10</text>
<line x1="489.00" y1="267.6" x2="489.00" y2="269.7" stroke="#111" stroke-width="0.9"/>
<text x="486.91" y="278.07" font-size="8.100" textLength="4.19" lengthAdjust="spacingAndGlyphs" fill="#111" font-weight="normal" stroke="#111" stroke-width="0.12" >0</text>
<line x1="507.66" y1="267.6" x2="507.66" y2="269.7" stroke="#111" stroke-width="0.9"/>
<text x="505.57" y="278.07" font-size="8.100" textLength="4.19" lengthAdjust="spacingAndGlyphs" fill="#111" font-weight="normal" stroke="#111" stroke-width="0.12" >2</text>
<line x1="526.32" y1="267.6" x2="526.32" y2="269.7" stroke="#111" stroke-width="0.9"/>
<text x="524.25" y="277.99" font-size="8.100" textLength="4.19" lengthAdjust="spacingAndGlyphs" fill="#111" font-weight="normal" stroke="#111" stroke-width="0.12" >4</text>
<line x1="544.98" y1="267.6" x2="544.98" y2="269.7" stroke="#111" stroke-width="0.9"/>
<text x="542.87" y="278.07" font-size="8.100" textLength="4.19" lengthAdjust="spacingAndGlyphs" fill="#111" font-weight="normal" stroke="#111" stroke-width="0.12" >6</text>
<line x1="563.64" y1="267.6" x2="563.64" y2="269.7" stroke="#111" stroke-width="0.9"/>
<text x="561.53" y="278.07" font-size="8.100" textLength="4.19" lengthAdjust="spacingAndGlyphs" fill="#111" font-weight="normal" stroke="#111" stroke-width="0.12" >8</text>
<line x1="582.30" y1="267.6" x2="582.30" y2="269.7" stroke="#111" stroke-width="0.9"/>
<text x="577.99" y="278.07" font-size="8.100" textLength="8.38" lengthAdjust="spacingAndGlyphs" fill="#111" font-weight="normal" stroke="#111" stroke-width="0.12" >10</text>
<line x1="600.96" y1="267.6" x2="600.96" y2="269.7" stroke="#111" stroke-width="0.9"/>
<text x="596.69" y="278.07" font-size="8.100" textLength="8.38" lengthAdjust="spacingAndGlyphs" fill="#111" font-weight="normal" stroke="#111" stroke-width="0.12" >12</text>
<line x1="619.62" y1="267.6" x2="619.62" y2="269.7" stroke="#111" stroke-width="0.9"/>
<text x="615.27" y="277.99" font-size="8.100" textLength="8.38" lengthAdjust="spacingAndGlyphs" fill="#111" font-weight="normal" stroke="#111" stroke-width="0.12" >14</text>
<line x1="638.28" y1="267.6" x2="638.28" y2="269.7" stroke="#111" stroke-width="0.9"/>
<text x="633.99" y="278.07" font-size="8.100" textLength="8.38" lengthAdjust="spacingAndGlyphs" fill="#111" font-weight="normal" stroke="#111" stroke-width="0.12" >16</text>
<line x1="656.94" y1="267.6" x2="656.94" y2="269.7" stroke="#111" stroke-width="0.9"/>
<text x="652.63" y="278.07" font-size="8.100" textLength="8.38" lengthAdjust="spacingAndGlyphs" fill="#111" font-weight="normal" stroke="#111" stroke-width="0.12" >18</text>
<line x1="675.60" y1="267.6" x2="675.60" y2="269.7" stroke="#111" stroke-width="0.9"/>
<text x="671.38" y="278.07" font-size="8.100" textLength="8.38" lengthAdjust="spacingAndGlyphs" fill="#111" font-weight="normal" stroke="#111" stroke-width="0.12" >20</text>
<text x="533.94" y="289.10" font-size="7.862" textLength="107.77" lengthAdjust="spacingAndGlyphs" fill="#222" font-weight="normal" stroke="#222" stroke-width="0.12" >Time (days post-AIEC gavage)</text>
<text x="575.85" y="172.90" font-size="9.710" textLength="22.16" lengthAdjust="spacingAndGlyphs" fill="#222" font-weight="bold" stroke="#222" stroke-width="0.15" >+EcN</text>
<text transform="translate(472.40,262.10) rotate(-90)" x="0" y="0" font-size="8.3" textLength="84.90" lengthAdjust="spacingAndGlyphs" fill="#111" stroke="#111" stroke-width="0.1">AIEC log<tspan font-size="5.6" dy="2.1">10</tspan><tspan dy="-2.1">CFUs/g feces</tspan></text>
</svg></body></html>
